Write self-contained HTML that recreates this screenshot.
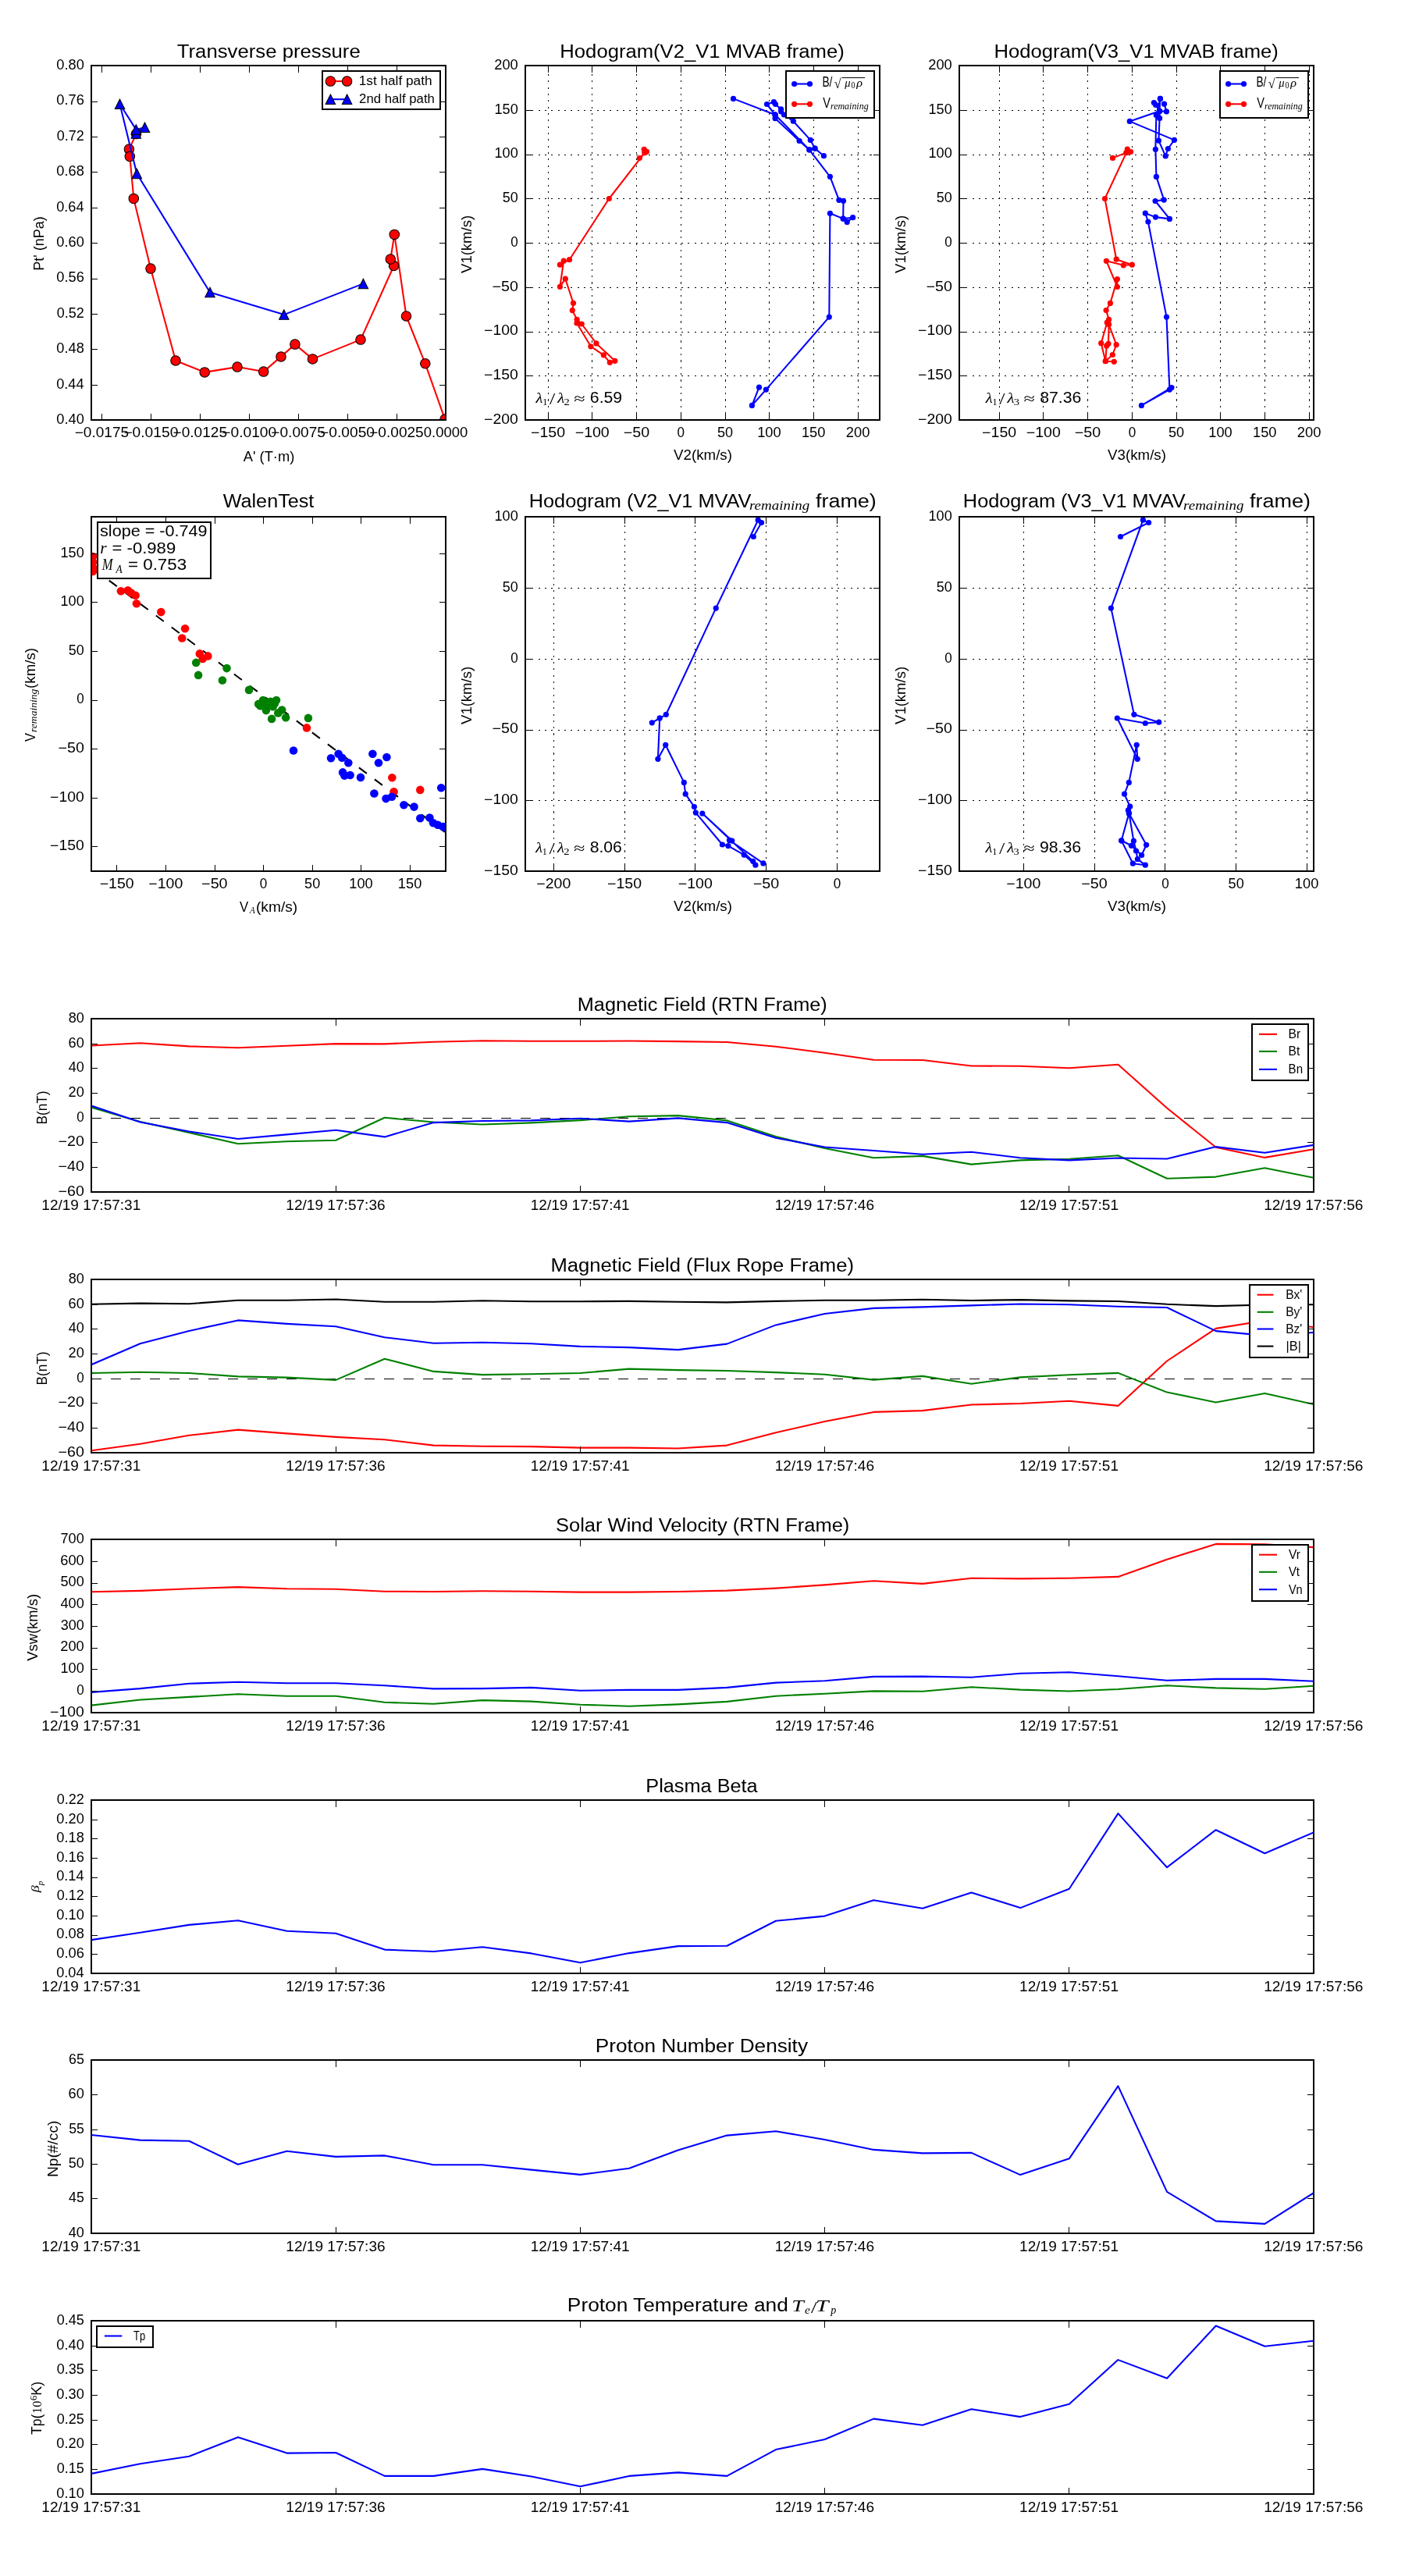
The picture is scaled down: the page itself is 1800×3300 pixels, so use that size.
<!DOCTYPE html>
<html><head><meta charset="utf-8"><title>figure</title><style>html,body{margin:0;padding:0;background:#fff;overflow:hidden;}svg{display:block;will-change:transform;}text{fill:#000;}</style></head><body>
<svg width="1800" height="3300" viewBox="0 0 1800 3300">
<rect x="0" y="0" width="1800" height="3300" fill="#fff"/>
<defs><clipPath id="p1"><rect x="117.0" y="84.0" width="454.0" height="454.0"/></clipPath><clipPath id="p2"><rect x="673.0" y="84.0" width="454.0" height="454.0"/></clipPath><clipPath id="p3"><rect x="1229.0" y="84.0" width="454.0" height="454.0"/></clipPath><clipPath id="p4"><rect x="117.0" y="662.0" width="454.0" height="454.0"/></clipPath><clipPath id="p5"><rect x="673.0" y="662.0" width="454.0" height="454.0"/></clipPath><clipPath id="p6"><rect x="1229.0" y="662.0" width="454.0" height="454.0"/></clipPath><clipPath id="ts0"><rect x="117.0" y="1305.0" width="1566.0" height="221.70000000000005"/></clipPath><clipPath id="ts1"><rect x="117.0" y="1639.0" width="1566.0" height="221.70000000000005"/></clipPath><clipPath id="ts2"><rect x="117.0" y="1972.0" width="1566.0" height="221.69999999999982"/></clipPath><clipPath id="ts3"><rect x="117.0" y="2306.0" width="1566.0" height="221.69999999999982"/></clipPath><clipPath id="ts4"><rect x="117.0" y="2639.0" width="1566.0" height="221.69999999999982"/></clipPath><clipPath id="ts5"><rect x="117.0" y="2973.0" width="1566.0" height="221.69999999999982"/></clipPath></defs>
<g clip-path="url(#p1)">
<polyline points="174.50,171.60 165.40,191.10 166.30,200.40 171.30,254.40 193.00,344.10 225.00,462.00 262.20,476.90 304.00,470.10 337.70,476.10 360.00,456.90 377.90,441.10 400.50,459.90 462.00,435.10 504.60,340.50 500.30,332.00 505.30,300.40 520.50,405.00 544.80,465.80 570.00,537.10" fill="none" stroke="#ff0000" stroke-width="2.08" stroke-linejoin="round" stroke-linecap="butt"/>
<g fill="#ff0000" stroke="#000000" stroke-width="1.04"><circle cx="174.50" cy="171.60" r="6.25"/><circle cx="165.40" cy="191.10" r="6.25"/><circle cx="166.30" cy="200.40" r="6.25"/><circle cx="171.30" cy="254.40" r="6.25"/><circle cx="193.00" cy="344.10" r="6.25"/><circle cx="225.00" cy="462.00" r="6.25"/><circle cx="262.20" cy="476.90" r="6.25"/><circle cx="304.00" cy="470.10" r="6.25"/><circle cx="337.70" cy="476.10" r="6.25"/><circle cx="360.00" cy="456.90" r="6.25"/><circle cx="377.90" cy="441.10" r="6.25"/><circle cx="400.50" cy="459.90" r="6.25"/><circle cx="462.00" cy="435.10" r="6.25"/><circle cx="504.60" cy="340.50" r="6.25"/><circle cx="500.30" cy="332.00" r="6.25"/><circle cx="505.30" cy="300.40" r="6.25"/><circle cx="520.50" cy="405.00" r="6.25"/><circle cx="544.80" cy="465.80" r="6.25"/><circle cx="570.00" cy="537.10" r="6.25"/></g>
<polyline points="174.30,171.10 185.50,163.20 174.30,165.90 153.50,133.30 175.30,222.50 269.00,374.50 363.80,403.10 465.40,363.40" fill="none" stroke="#0000ff" stroke-width="2.08" stroke-linejoin="round" stroke-linecap="butt"/>
<g fill="#0000ff" stroke="#000000" stroke-width="1.04" stroke-linejoin="miter"><path d="M174.30,164.85 L168.05,177.35 L180.55,177.35 Z"/><path d="M185.50,156.95 L179.25,169.45 L191.75,169.45 Z"/><path d="M174.30,159.65 L168.05,172.15 L180.55,172.15 Z"/><path d="M153.50,127.05 L147.25,139.55 L159.75,139.55 Z"/><path d="M175.30,216.25 L169.05,228.75 L181.55,228.75 Z"/><path d="M269.00,368.25 L262.75,380.75 L275.25,380.75 Z"/><path d="M363.80,396.85 L357.55,409.35 L370.05,409.35 Z"/><path d="M465.40,357.15 L459.15,369.65 L471.65,369.65 Z"/></g>
</g>
<path d="M130.5,538.00V530.17M130.5,84.00V92.83M193.5,538.00V530.17M193.5,84.00V92.83M256.5,538.00V530.17M256.5,84.00V92.83M319.5,538.00V530.17M319.5,84.00V92.83M382.5,538.00V530.17M382.5,84.00V92.83M445.5,538.00V530.17M445.5,84.00V92.83M508.5,538.00V530.17M508.5,84.00V92.83M571.5,538.00V530.17M571.5,84.00V92.83M117.00,538.5H125.33M571.00,538.5H562.67M117.00,493.5H125.33M571.00,493.5H562.67M117.00,447.5H125.33M571.00,447.5H562.67M117.00,402.5H125.33M571.00,402.5H562.67M117.00,357.5H125.33M571.00,357.5H562.67M117.00,311.5H125.33M571.00,311.5H562.67M117.00,266.5H125.33M571.00,266.5H562.67M117.00,220.5H125.33M571.00,220.5H562.67M117.00,175.5H125.33M571.00,175.5H562.67M117.00,130.5H125.33M571.00,130.5H562.67M117.00,84.5H125.33M571.00,84.5H562.67" stroke="#000" stroke-width="1" fill="none" shape-rendering="crispEdges"/>
<rect x="412.80" y="91.10" width="151.20" height="48.50" fill="#fff" stroke="#000" stroke-width="2.0" shape-rendering="crispEdges"/>
<line x1="423.40" y1="104.10" x2="444.60" y2="104.10" stroke="#ff0000" stroke-width="2.08" stroke-linecap="butt"/>
<g fill="#ff0000" stroke="#000000" stroke-width="1.04"><circle cx="423.40" cy="104.10" r="6.25"/><circle cx="444.60" cy="104.10" r="6.25"/></g>
<line x1="423.40" y1="127.20" x2="444.60" y2="127.20" stroke="#0000ff" stroke-width="2.08" stroke-linecap="butt"/>
<g fill="#0000ff" stroke="#000000" stroke-width="1.04" stroke-linejoin="miter"><path d="M423.40,120.95 L417.15,133.45 L429.65,133.45 Z"/><path d="M444.60,120.95 L438.35,133.45 L450.85,133.45 Z"/></g>
<text x="459.69" y="108.80" font-family="Liberation Sans" font-size="16.00" textLength="93.84" lengthAdjust="spacingAndGlyphs">1st half path</text>
<text x="460.12" y="131.90" font-family="Liberation Sans" font-size="16.00" textLength="96.73" lengthAdjust="spacingAndGlyphs">2nd half path</text>
<rect x="117.00" y="84.00" width="454.00" height="454.00" fill="none" stroke="#000" stroke-width="2.0" shape-rendering="crispEdges"/>
<text x="95.69" y="559.70" font-family="Liberation Sans" font-size="17.67" textLength="69.55" lengthAdjust="spacingAndGlyphs">−0.0175</text>
<text x="158.42" y="559.70" font-family="Liberation Sans" font-size="17.67" textLength="69.93" lengthAdjust="spacingAndGlyphs">−0.0150</text>
<text x="221.53" y="559.70" font-family="Liberation Sans" font-size="17.67" textLength="69.55" lengthAdjust="spacingAndGlyphs">−0.0125</text>
<text x="284.26" y="559.70" font-family="Liberation Sans" font-size="17.67" textLength="69.93" lengthAdjust="spacingAndGlyphs">−0.0100</text>
<text x="347.37" y="559.70" font-family="Liberation Sans" font-size="17.67" textLength="69.55" lengthAdjust="spacingAndGlyphs">−0.0075</text>
<text x="410.10" y="559.70" font-family="Liberation Sans" font-size="17.67" textLength="69.93" lengthAdjust="spacingAndGlyphs">−0.0050</text>
<text x="473.21" y="559.70" font-family="Liberation Sans" font-size="17.67" textLength="69.55" lengthAdjust="spacingAndGlyphs">−0.0025</text>
<text x="542.76" y="559.70" font-family="Liberation Sans" font-size="17.67" textLength="56.51" lengthAdjust="spacingAndGlyphs">0.0000</text>
<text x="72.28" y="542.90" font-family="Liberation Sans" font-size="17.67" textLength="35.53" lengthAdjust="spacingAndGlyphs">0.40</text>
<text x="72.16" y="497.50" font-family="Liberation Sans" font-size="17.67" textLength="35.39" lengthAdjust="spacingAndGlyphs">0.44</text>
<text x="72.28" y="452.10" font-family="Liberation Sans" font-size="17.67" textLength="35.53" lengthAdjust="spacingAndGlyphs">0.48</text>
<text x="72.77" y="406.70" font-family="Liberation Sans" font-size="17.67" textLength="35.15" lengthAdjust="spacingAndGlyphs">0.52</text>
<text x="72.27" y="361.30" font-family="Liberation Sans" font-size="17.67" textLength="35.66" lengthAdjust="spacingAndGlyphs">0.56</text>
<text x="72.28" y="315.90" font-family="Liberation Sans" font-size="17.67" textLength="35.53" lengthAdjust="spacingAndGlyphs">0.60</text>
<text x="72.16" y="270.50" font-family="Liberation Sans" font-size="17.67" textLength="35.39" lengthAdjust="spacingAndGlyphs">0.64</text>
<text x="72.28" y="225.10" font-family="Liberation Sans" font-size="17.67" textLength="35.53" lengthAdjust="spacingAndGlyphs">0.68</text>
<text x="72.77" y="179.70" font-family="Liberation Sans" font-size="17.67" textLength="35.15" lengthAdjust="spacingAndGlyphs">0.72</text>
<text x="72.27" y="134.30" font-family="Liberation Sans" font-size="17.67" textLength="35.66" lengthAdjust="spacingAndGlyphs">0.76</text>
<text x="72.28" y="88.90" font-family="Liberation Sans" font-size="17.67" textLength="35.53" lengthAdjust="spacingAndGlyphs">0.80</text>
<text x="226.79" y="74.20" font-family="Liberation Sans" font-size="24.73" textLength="234.98" lengthAdjust="spacingAndGlyphs">Transverse pressure</text>
<text x="311.81" y="590.80" font-family="Liberation Sans" font-size="17.67" textLength="65.49" lengthAdjust="spacingAndGlyphs">A' (T·m)</text>
<g transform="rotate(-90 55.80 345.40)">
<text x="54.40" y="345.40" font-family="Liberation Sans" font-size="17.70" textLength="69.61" lengthAdjust="spacingAndGlyphs">Pt' (nPa)</text>
</g>
<line x1="702.50" y1="538.50" x2="702.50" y2="84.00" stroke="#000000" stroke-width="1.0" stroke-dasharray="2.08 6.25" shape-rendering="crispEdges" stroke-linecap="butt"/>
<line x1="758.50" y1="538.50" x2="758.50" y2="84.00" stroke="#000000" stroke-width="1.0" stroke-dasharray="2.08 6.25" shape-rendering="crispEdges" stroke-linecap="butt"/>
<line x1="815.50" y1="538.50" x2="815.50" y2="84.00" stroke="#000000" stroke-width="1.0" stroke-dasharray="2.08 6.25" shape-rendering="crispEdges" stroke-linecap="butt"/>
<line x1="872.50" y1="538.50" x2="872.50" y2="84.00" stroke="#000000" stroke-width="1.0" stroke-dasharray="2.08 6.25" shape-rendering="crispEdges" stroke-linecap="butt"/>
<line x1="929.50" y1="538.50" x2="929.50" y2="84.00" stroke="#000000" stroke-width="1.0" stroke-dasharray="2.08 6.25" shape-rendering="crispEdges" stroke-linecap="butt"/>
<line x1="985.50" y1="538.50" x2="985.50" y2="84.00" stroke="#000000" stroke-width="1.0" stroke-dasharray="2.08 6.25" shape-rendering="crispEdges" stroke-linecap="butt"/>
<line x1="1042.50" y1="538.50" x2="1042.50" y2="84.00" stroke="#000000" stroke-width="1.0" stroke-dasharray="2.08 6.25" shape-rendering="crispEdges" stroke-linecap="butt"/>
<line x1="1099.50" y1="538.50" x2="1099.50" y2="84.00" stroke="#000000" stroke-width="1.0" stroke-dasharray="2.08 6.25" shape-rendering="crispEdges" stroke-linecap="butt"/>
<line x1="673.00" y1="481.50" x2="1127.00" y2="481.50" stroke="#000000" stroke-width="1.0" stroke-dasharray="2.08 6.25" shape-rendering="crispEdges" stroke-linecap="butt"/>
<line x1="673.00" y1="425.50" x2="1127.00" y2="425.50" stroke="#000000" stroke-width="1.0" stroke-dasharray="2.08 6.25" shape-rendering="crispEdges" stroke-linecap="butt"/>
<line x1="673.00" y1="368.50" x2="1127.00" y2="368.50" stroke="#000000" stroke-width="1.0" stroke-dasharray="2.08 6.25" shape-rendering="crispEdges" stroke-linecap="butt"/>
<line x1="673.00" y1="311.50" x2="1127.00" y2="311.50" stroke="#000000" stroke-width="1.0" stroke-dasharray="2.08 6.25" shape-rendering="crispEdges" stroke-linecap="butt"/>
<line x1="673.00" y1="254.50" x2="1127.00" y2="254.50" stroke="#000000" stroke-width="1.0" stroke-dasharray="2.08 6.25" shape-rendering="crispEdges" stroke-linecap="butt"/>
<line x1="673.00" y1="198.50" x2="1127.00" y2="198.50" stroke="#000000" stroke-width="1.0" stroke-dasharray="2.08 6.25" shape-rendering="crispEdges" stroke-linecap="butt"/>
<line x1="673.00" y1="141.50" x2="1127.00" y2="141.50" stroke="#000000" stroke-width="1.0" stroke-dasharray="2.08 6.25" shape-rendering="crispEdges" stroke-linecap="butt"/>
<path d="M702.5,538.00V530.17M702.5,84.00V92.83M758.5,538.00V530.17M758.5,84.00V92.83M815.5,538.00V530.17M815.5,84.00V92.83M872.5,538.00V530.17M872.5,84.00V92.83M929.5,538.00V530.17M929.5,84.00V92.83M985.5,538.00V530.17M985.5,84.00V92.83M1042.5,538.00V530.17M1042.5,84.00V92.83M1099.5,538.00V530.17M1099.5,84.00V92.83M673.00,481.5H681.33M1127.00,481.5H1118.67M673.00,425.5H681.33M1127.00,425.5H1118.67M673.00,368.5H681.33M1127.00,368.5H1118.67M673.00,311.5H681.33M1127.00,311.5H1118.67M673.00,254.5H681.33M1127.00,254.5H1118.67M673.00,198.5H681.33M1127.00,198.5H1118.67M673.00,141.5H681.33M1127.00,141.5H1118.67" stroke="#000" stroke-width="1" fill="none" shape-rendering="crispEdges"/>
<path d="M939.50,126.40 L993.10,147.00 L1036.90,191.90 L1063.40,226.30 L1074.90,256.30 L1080.50,257.30 L1080.20,280.10 L1085.20,284.40 L1092.60,278.70 L1080.20,280.10 L1063.40,273.30 L1062.30,406.10 L981.40,499.10 L963.40,519.40 L972.50,496.20 M993.10,147.00 L982.50,133.50 L991.40,130.70 L993.50,133.50 L1000.60,139.90 L1000.60,142.80 L1004.50,147.00 L1016.30,155.20 L1038.30,179.40 L1044.00,190.10 L1055.40,199.70 M993.10,147.00 L993.10,151.70 L1024.10,180.50 L1036.90,191.90 L1044.00,190.10 " fill="none" stroke="#0000ff" stroke-width="2.08" stroke-linejoin="round" clip-path="url(#p2)"/>
<g fill="#0000ff" clip-path="url(#p2)"><circle cx="939.50" cy="126.40" r="3.6"/><circle cx="993.10" cy="147.00" r="3.6"/><circle cx="1036.90" cy="191.90" r="3.6"/><circle cx="1063.40" cy="226.30" r="3.6"/><circle cx="1074.90" cy="256.30" r="3.6"/><circle cx="1080.50" cy="257.30" r="3.6"/><circle cx="1080.20" cy="280.10" r="3.6"/><circle cx="1085.20" cy="284.40" r="3.6"/><circle cx="1092.60" cy="278.70" r="3.6"/><circle cx="1080.20" cy="280.10" r="3.6"/><circle cx="1063.40" cy="273.30" r="3.6"/><circle cx="1062.30" cy="406.10" r="3.6"/><circle cx="981.40" cy="499.10" r="3.6"/><circle cx="963.40" cy="519.40" r="3.6"/><circle cx="972.50" cy="496.20" r="3.6"/><circle cx="993.10" cy="147.00" r="3.6"/><circle cx="982.50" cy="133.50" r="3.6"/><circle cx="991.40" cy="130.70" r="3.6"/><circle cx="993.50" cy="133.50" r="3.6"/><circle cx="1000.60" cy="139.90" r="3.6"/><circle cx="1000.60" cy="142.80" r="3.6"/><circle cx="1004.50" cy="147.00" r="3.6"/><circle cx="1016.30" cy="155.20" r="3.6"/><circle cx="1038.30" cy="179.40" r="3.6"/><circle cx="1044.00" cy="190.10" r="3.6"/><circle cx="1055.40" cy="199.70" r="3.6"/><circle cx="993.10" cy="147.00" r="3.6"/><circle cx="993.10" cy="151.70" r="3.6"/><circle cx="1024.10" cy="180.50" r="3.6"/><circle cx="1036.90" cy="191.90" r="3.6"/><circle cx="1044.00" cy="190.10" r="3.6"/></g>
<polyline points="819.30,202.50 826.00,195.60 828.50,194.30 825.20,191.30 826.00,195.60 780.30,254.50 729.50,332.70 717.40,339.20 722.20,334.20 717.40,367.30 724.30,357.20 734.50,388.30 733.30,397.60 739.10,409.30 739.50,413.20 745.20,415.00 763.90,439.90 787.80,462.30 781.30,464.30 773.30,454.80 756.90,443.80 739.00,414.00" fill="none" stroke="#ff0000" stroke-width="2.08" stroke-linejoin="round" stroke-linecap="butt" clip-path="url(#p2)"/>
<g fill="#ff0000" clip-path="url(#p2)"><circle cx="819.30" cy="202.50" r="3.6"/><circle cx="826.00" cy="195.60" r="3.6"/><circle cx="828.50" cy="194.30" r="3.6"/><circle cx="825.20" cy="191.30" r="3.6"/><circle cx="826.00" cy="195.60" r="3.6"/><circle cx="780.30" cy="254.50" r="3.6"/><circle cx="729.50" cy="332.70" r="3.6"/><circle cx="717.40" cy="339.20" r="3.6"/><circle cx="722.20" cy="334.20" r="3.6"/><circle cx="717.40" cy="367.30" r="3.6"/><circle cx="724.30" cy="357.20" r="3.6"/><circle cx="734.50" cy="388.30" r="3.6"/><circle cx="733.30" cy="397.60" r="3.6"/><circle cx="739.10" cy="409.30" r="3.6"/><circle cx="739.50" cy="413.20" r="3.6"/><circle cx="745.20" cy="415.00" r="3.6"/><circle cx="763.90" cy="439.90" r="3.6"/><circle cx="787.80" cy="462.30" r="3.6"/><circle cx="781.30" cy="464.30" r="3.6"/><circle cx="773.30" cy="454.80" r="3.6"/><circle cx="756.90" cy="443.80" r="3.6"/><circle cx="739.00" cy="414.00" r="3.6"/></g>
<rect x="1007.30" y="91.20" width="112.40" height="59.30" fill="#fff" stroke="#000" stroke-width="2.0" shape-rendering="crispEdges"/>
<line x1="1017.60" y1="107.50" x2="1037.50" y2="107.50" stroke="#0000ff" stroke-width="2.08" stroke-linecap="butt"/>
<g fill="#0000ff"><circle cx="1017.60" cy="107.50" r="3.6"/><circle cx="1037.50" cy="107.50" r="3.6"/></g>
<line x1="1017.60" y1="133.30" x2="1037.50" y2="133.30" stroke="#ff0000" stroke-width="2.08" stroke-linecap="butt"/>
<g fill="#ff0000"><circle cx="1017.60" cy="133.30" r="3.6"/><circle cx="1037.50" cy="133.30" r="3.6"/></g>
<text x="1053.44" y="111.10" font-family="Liberation Sans" font-size="17.70" textLength="12.98" lengthAdjust="spacingAndGlyphs">B/</text>
<text x="1068.65" y="112.50" font-family="Liberation Serif" font-size="17.00" textLength="8.81" lengthAdjust="spacingAndGlyphs">√</text>
<line x1="1078.50" y1="99.60" x2="1108.00" y2="99.60" stroke="#000000" stroke-width="1.0" stroke-linecap="butt"/>
<text x="1082.30" y="110.60" font-family="Liberation Serif" font-style="italic" font-size="15.00" textLength="7.31" lengthAdjust="spacingAndGlyphs">μ</text>
<text x="1090.48" y="112.60" font-family="Liberation Serif" font-size="11.50" textLength="4.94" lengthAdjust="spacingAndGlyphs">0</text>
<text x="1097.21" y="110.60" font-family="Liberation Serif" font-style="italic" font-size="15.00" textLength="7.78" lengthAdjust="spacingAndGlyphs">ρ</text>
<text x="1054.30" y="138.00" font-family="Liberation Sans" font-size="17.70" textLength="9.68" lengthAdjust="spacingAndGlyphs">V</text>
<text x="1064.02" y="139.70" font-family="Liberation Serif" font-style="italic" font-size="12.50" textLength="48.58" lengthAdjust="spacingAndGlyphs">remaining</text>
<rect x="673.00" y="84.00" width="454.00" height="454.00" fill="none" stroke="#000" stroke-width="2.0" shape-rendering="crispEdges"/>
<text x="680.04" y="559.70" font-family="Liberation Sans" font-size="17.67" textLength="43.98" lengthAdjust="spacingAndGlyphs">−150</text>
<text x="736.76" y="559.70" font-family="Liberation Sans" font-size="17.67" textLength="43.98" lengthAdjust="spacingAndGlyphs">−100</text>
<text x="798.71" y="559.70" font-family="Liberation Sans" font-size="17.67" textLength="33.47" lengthAdjust="spacingAndGlyphs">−50</text>
<text x="867.57" y="559.70" font-family="Liberation Sans" font-size="17.67" textLength="9.51" lengthAdjust="spacingAndGlyphs">0</text>
<text x="918.96" y="559.70" font-family="Liberation Sans" font-size="17.67" textLength="20.11" lengthAdjust="spacingAndGlyphs">50</text>
<text x="970.24" y="559.70" font-family="Liberation Sans" font-size="17.67" textLength="30.42" lengthAdjust="spacingAndGlyphs">100</text>
<text x="1026.96" y="559.70" font-family="Liberation Sans" font-size="17.67" textLength="30.42" lengthAdjust="spacingAndGlyphs">150</text>
<text x="1083.76" y="559.70" font-family="Liberation Sans" font-size="17.67" textLength="30.66" lengthAdjust="spacingAndGlyphs">200</text>
<text x="620.12" y="542.90" font-family="Liberation Sans" font-size="17.67" textLength="43.75" lengthAdjust="spacingAndGlyphs">−200</text>
<text x="620.12" y="486.15" font-family="Liberation Sans" font-size="17.67" textLength="43.75" lengthAdjust="spacingAndGlyphs">−150</text>
<text x="620.12" y="429.40" font-family="Liberation Sans" font-size="17.67" textLength="43.75" lengthAdjust="spacingAndGlyphs">−100</text>
<text x="630.52" y="372.65" font-family="Liberation Sans" font-size="17.67" textLength="33.30" lengthAdjust="spacingAndGlyphs">−50</text>
<text x="654.29" y="315.90" font-family="Liberation Sans" font-size="17.67" textLength="9.47" lengthAdjust="spacingAndGlyphs">0</text>
<text x="643.84" y="259.15" font-family="Liberation Sans" font-size="17.67" textLength="20.01" lengthAdjust="spacingAndGlyphs">50</text>
<text x="633.52" y="202.40" font-family="Liberation Sans" font-size="17.67" textLength="30.26" lengthAdjust="spacingAndGlyphs">100</text>
<text x="633.52" y="145.65" font-family="Liberation Sans" font-size="17.67" textLength="30.26" lengthAdjust="spacingAndGlyphs">150</text>
<text x="633.28" y="88.90" font-family="Liberation Sans" font-size="17.67" textLength="30.50" lengthAdjust="spacingAndGlyphs">200</text>
<text x="863.12" y="588.70" font-family="Liberation Sans" font-size="17.67" textLength="74.83" lengthAdjust="spacingAndGlyphs">V2(km/s)</text>
<g transform="rotate(-90 604.10 349.80)">
<text x="603.97" y="349.80" font-family="Liberation Sans" font-size="17.70" textLength="73.97" lengthAdjust="spacingAndGlyphs">V1(km/s)</text>
</g>
<line x1="1280.50" y1="538.50" x2="1280.50" y2="84.00" stroke="#000000" stroke-width="1.0" stroke-dasharray="2.08 6.25" shape-rendering="crispEdges" stroke-linecap="butt"/>
<line x1="1336.50" y1="538.50" x2="1336.50" y2="84.00" stroke="#000000" stroke-width="1.0" stroke-dasharray="2.08 6.25" shape-rendering="crispEdges" stroke-linecap="butt"/>
<line x1="1393.50" y1="538.50" x2="1393.50" y2="84.00" stroke="#000000" stroke-width="1.0" stroke-dasharray="2.08 6.25" shape-rendering="crispEdges" stroke-linecap="butt"/>
<line x1="1450.50" y1="538.50" x2="1450.50" y2="84.00" stroke="#000000" stroke-width="1.0" stroke-dasharray="2.08 6.25" shape-rendering="crispEdges" stroke-linecap="butt"/>
<line x1="1507.50" y1="538.50" x2="1507.50" y2="84.00" stroke="#000000" stroke-width="1.0" stroke-dasharray="2.08 6.25" shape-rendering="crispEdges" stroke-linecap="butt"/>
<line x1="1563.50" y1="538.50" x2="1563.50" y2="84.00" stroke="#000000" stroke-width="1.0" stroke-dasharray="2.08 6.25" shape-rendering="crispEdges" stroke-linecap="butt"/>
<line x1="1620.50" y1="538.50" x2="1620.50" y2="84.00" stroke="#000000" stroke-width="1.0" stroke-dasharray="2.08 6.25" shape-rendering="crispEdges" stroke-linecap="butt"/>
<line x1="1677.50" y1="538.50" x2="1677.50" y2="84.00" stroke="#000000" stroke-width="1.0" stroke-dasharray="2.08 6.25" shape-rendering="crispEdges" stroke-linecap="butt"/>
<line x1="1229.00" y1="481.50" x2="1683.00" y2="481.50" stroke="#000000" stroke-width="1.0" stroke-dasharray="2.08 6.25" shape-rendering="crispEdges" stroke-linecap="butt"/>
<line x1="1229.00" y1="425.50" x2="1683.00" y2="425.50" stroke="#000000" stroke-width="1.0" stroke-dasharray="2.08 6.25" shape-rendering="crispEdges" stroke-linecap="butt"/>
<line x1="1229.00" y1="368.50" x2="1683.00" y2="368.50" stroke="#000000" stroke-width="1.0" stroke-dasharray="2.08 6.25" shape-rendering="crispEdges" stroke-linecap="butt"/>
<line x1="1229.00" y1="311.50" x2="1683.00" y2="311.50" stroke="#000000" stroke-width="1.0" stroke-dasharray="2.08 6.25" shape-rendering="crispEdges" stroke-linecap="butt"/>
<line x1="1229.00" y1="254.50" x2="1683.00" y2="254.50" stroke="#000000" stroke-width="1.0" stroke-dasharray="2.08 6.25" shape-rendering="crispEdges" stroke-linecap="butt"/>
<line x1="1229.00" y1="198.50" x2="1683.00" y2="198.50" stroke="#000000" stroke-width="1.0" stroke-dasharray="2.08 6.25" shape-rendering="crispEdges" stroke-linecap="butt"/>
<line x1="1229.00" y1="141.50" x2="1683.00" y2="141.50" stroke="#000000" stroke-width="1.0" stroke-dasharray="2.08 6.25" shape-rendering="crispEdges" stroke-linecap="butt"/>
<path d="M1280.5,538.00V530.17M1280.5,84.00V92.83M1336.5,538.00V530.17M1336.5,84.00V92.83M1393.5,538.00V530.17M1393.5,84.00V92.83M1450.5,538.00V530.17M1450.5,84.00V92.83M1507.5,538.00V530.17M1507.5,84.00V92.83M1563.5,538.00V530.17M1563.5,84.00V92.83M1620.5,538.00V530.17M1620.5,84.00V92.83M1677.5,538.00V530.17M1677.5,84.00V92.83M1229.00,481.5H1237.33M1683.00,481.5H1674.67M1229.00,425.5H1237.33M1683.00,425.5H1674.67M1229.00,368.5H1237.33M1683.00,368.5H1674.67M1229.00,311.5H1237.33M1683.00,311.5H1674.67M1229.00,254.5H1237.33M1683.00,254.5H1674.67M1229.00,198.5H1237.33M1683.00,198.5H1674.67M1229.00,141.5H1237.33M1683.00,141.5H1674.67" stroke="#000" stroke-width="1" fill="none" shape-rendering="crispEdges"/>
<path d="M1486.40,126.40 L1481.30,147.50 L1480.40,191.30 L1481.40,226.40 L1491.20,256.10 L1480.10,257.50 L1498.40,280.40 L1480.40,278.10 L1467.30,273.20 L1470.90,284.00 L1494.50,406.10 L1498.40,499.10 L1462.40,519.40 L1501.00,496.50 M1478.40,131.50 L1480.70,134.40 L1485.60,142.30 L1447.30,155.40 L1504.40,179.40 L1496.40,190.50 L1493.20,199.90 L1484.40,180.20 L1485.60,151.40 L1485.60,142.30 M1491.50,133.20 L1494.40,142.90 L1485.60,142.30 L1486.40,126.40 " fill="none" stroke="#0000ff" stroke-width="2.08" stroke-linejoin="round" clip-path="url(#p3)"/>
<g fill="#0000ff" clip-path="url(#p3)"><circle cx="1486.40" cy="126.40" r="3.6"/><circle cx="1481.30" cy="147.50" r="3.6"/><circle cx="1480.40" cy="191.30" r="3.6"/><circle cx="1481.40" cy="226.40" r="3.6"/><circle cx="1491.20" cy="256.10" r="3.6"/><circle cx="1480.10" cy="257.50" r="3.6"/><circle cx="1498.40" cy="280.40" r="3.6"/><circle cx="1480.40" cy="278.10" r="3.6"/><circle cx="1467.30" cy="273.20" r="3.6"/><circle cx="1470.90" cy="284.00" r="3.6"/><circle cx="1494.50" cy="406.10" r="3.6"/><circle cx="1498.40" cy="499.10" r="3.6"/><circle cx="1462.40" cy="519.40" r="3.6"/><circle cx="1501.00" cy="496.50" r="3.6"/><circle cx="1478.40" cy="131.50" r="3.6"/><circle cx="1480.70" cy="134.40" r="3.6"/><circle cx="1485.60" cy="142.30" r="3.6"/><circle cx="1447.30" cy="155.40" r="3.6"/><circle cx="1504.40" cy="179.40" r="3.6"/><circle cx="1496.40" cy="190.50" r="3.6"/><circle cx="1493.20" cy="199.90" r="3.6"/><circle cx="1484.40" cy="180.20" r="3.6"/><circle cx="1485.60" cy="151.40" r="3.6"/><circle cx="1485.60" cy="142.30" r="3.6"/><circle cx="1491.50" cy="133.20" r="3.6"/><circle cx="1494.40" cy="142.90" r="3.6"/><circle cx="1485.60" cy="142.30" r="3.6"/><circle cx="1486.40" cy="126.40" r="3.6"/></g>
<polyline points="1425.50,202.40 1443.00,195.60 1448.60,194.50 1444.30,191.10 1443.00,195.60 1415.50,254.50 1430.20,332.20 1450.30,339.20 1439.30,339.80 1417.40,334.30 1431.40,367.50 1431.40,357.60 1422.40,388.40 1417.10,397.50 1420.60,409.40 1418.30,413.20 1410.70,439.70 1416.30,462.70 1425.30,454.50 1430.20,441.70 1420.60,415.50 1420.00,440.30 1417.70,442.90 1416.30,462.70 1427.30,463.30" fill="none" stroke="#ff0000" stroke-width="2.08" stroke-linejoin="round" stroke-linecap="butt" clip-path="url(#p3)"/>
<g fill="#ff0000" clip-path="url(#p3)"><circle cx="1425.50" cy="202.40" r="3.6"/><circle cx="1443.00" cy="195.60" r="3.6"/><circle cx="1448.60" cy="194.50" r="3.6"/><circle cx="1444.30" cy="191.10" r="3.6"/><circle cx="1443.00" cy="195.60" r="3.6"/><circle cx="1415.50" cy="254.50" r="3.6"/><circle cx="1430.20" cy="332.20" r="3.6"/><circle cx="1450.30" cy="339.20" r="3.6"/><circle cx="1439.30" cy="339.80" r="3.6"/><circle cx="1417.40" cy="334.30" r="3.6"/><circle cx="1431.40" cy="367.50" r="3.6"/><circle cx="1431.40" cy="357.60" r="3.6"/><circle cx="1422.40" cy="388.40" r="3.6"/><circle cx="1417.10" cy="397.50" r="3.6"/><circle cx="1420.60" cy="409.40" r="3.6"/><circle cx="1418.30" cy="413.20" r="3.6"/><circle cx="1410.70" cy="439.70" r="3.6"/><circle cx="1416.30" cy="462.70" r="3.6"/><circle cx="1425.30" cy="454.50" r="3.6"/><circle cx="1430.20" cy="441.70" r="3.6"/><circle cx="1420.60" cy="415.50" r="3.6"/><circle cx="1420.00" cy="440.30" r="3.6"/><circle cx="1417.70" cy="442.90" r="3.6"/><circle cx="1416.30" cy="462.70" r="3.6"/><circle cx="1427.30" cy="463.30" r="3.6"/></g>
<rect x="1563.30" y="91.20" width="112.40" height="59.30" fill="#fff" stroke="#000" stroke-width="2.0" shape-rendering="crispEdges"/>
<line x1="1573.60" y1="107.50" x2="1593.50" y2="107.50" stroke="#0000ff" stroke-width="2.08" stroke-linecap="butt"/>
<g fill="#0000ff"><circle cx="1573.60" cy="107.50" r="3.6"/><circle cx="1593.50" cy="107.50" r="3.6"/></g>
<line x1="1573.60" y1="133.30" x2="1593.50" y2="133.30" stroke="#ff0000" stroke-width="2.08" stroke-linecap="butt"/>
<g fill="#ff0000"><circle cx="1573.60" cy="133.30" r="3.6"/><circle cx="1593.50" cy="133.30" r="3.6"/></g>
<text x="1609.44" y="111.10" font-family="Liberation Sans" font-size="17.70" textLength="12.98" lengthAdjust="spacingAndGlyphs">B/</text>
<text x="1624.65" y="112.50" font-family="Liberation Serif" font-size="17.00" textLength="8.81" lengthAdjust="spacingAndGlyphs">√</text>
<line x1="1634.50" y1="99.60" x2="1664.00" y2="99.60" stroke="#000000" stroke-width="1.0" stroke-linecap="butt"/>
<text x="1638.30" y="110.60" font-family="Liberation Serif" font-style="italic" font-size="15.00" textLength="7.31" lengthAdjust="spacingAndGlyphs">μ</text>
<text x="1646.48" y="112.60" font-family="Liberation Serif" font-size="11.50" textLength="4.94" lengthAdjust="spacingAndGlyphs">0</text>
<text x="1653.21" y="110.60" font-family="Liberation Serif" font-style="italic" font-size="15.00" textLength="7.78" lengthAdjust="spacingAndGlyphs">ρ</text>
<text x="1610.30" y="138.00" font-family="Liberation Sans" font-size="17.70" textLength="9.68" lengthAdjust="spacingAndGlyphs">V</text>
<text x="1620.02" y="139.70" font-family="Liberation Serif" font-style="italic" font-size="12.50" textLength="48.58" lengthAdjust="spacingAndGlyphs">remaining</text>
<rect x="1229.00" y="84.00" width="454.00" height="454.00" fill="none" stroke="#000" stroke-width="2.0" shape-rendering="crispEdges"/>
<text x="1258.14" y="559.70" font-family="Liberation Sans" font-size="17.67" textLength="43.98" lengthAdjust="spacingAndGlyphs">−150</text>
<text x="1314.86" y="559.70" font-family="Liberation Sans" font-size="17.67" textLength="43.98" lengthAdjust="spacingAndGlyphs">−100</text>
<text x="1376.81" y="559.70" font-family="Liberation Sans" font-size="17.67" textLength="33.47" lengthAdjust="spacingAndGlyphs">−50</text>
<text x="1445.67" y="559.70" font-family="Liberation Sans" font-size="17.67" textLength="9.51" lengthAdjust="spacingAndGlyphs">0</text>
<text x="1497.06" y="559.70" font-family="Liberation Sans" font-size="17.67" textLength="20.11" lengthAdjust="spacingAndGlyphs">50</text>
<text x="1548.34" y="559.70" font-family="Liberation Sans" font-size="17.67" textLength="30.42" lengthAdjust="spacingAndGlyphs">100</text>
<text x="1605.06" y="559.70" font-family="Liberation Sans" font-size="17.67" textLength="30.42" lengthAdjust="spacingAndGlyphs">150</text>
<text x="1661.86" y="559.70" font-family="Liberation Sans" font-size="17.67" textLength="30.66" lengthAdjust="spacingAndGlyphs">200</text>
<text x="1176.12" y="542.90" font-family="Liberation Sans" font-size="17.67" textLength="43.75" lengthAdjust="spacingAndGlyphs">−200</text>
<text x="1176.12" y="486.15" font-family="Liberation Sans" font-size="17.67" textLength="43.75" lengthAdjust="spacingAndGlyphs">−150</text>
<text x="1176.12" y="429.40" font-family="Liberation Sans" font-size="17.67" textLength="43.75" lengthAdjust="spacingAndGlyphs">−100</text>
<text x="1186.52" y="372.65" font-family="Liberation Sans" font-size="17.67" textLength="33.30" lengthAdjust="spacingAndGlyphs">−50</text>
<text x="1210.29" y="315.90" font-family="Liberation Sans" font-size="17.67" textLength="9.47" lengthAdjust="spacingAndGlyphs">0</text>
<text x="1199.84" y="259.15" font-family="Liberation Sans" font-size="17.67" textLength="20.01" lengthAdjust="spacingAndGlyphs">50</text>
<text x="1189.52" y="202.40" font-family="Liberation Sans" font-size="17.67" textLength="30.26" lengthAdjust="spacingAndGlyphs">100</text>
<text x="1189.52" y="145.65" font-family="Liberation Sans" font-size="17.67" textLength="30.26" lengthAdjust="spacingAndGlyphs">150</text>
<text x="1189.28" y="88.90" font-family="Liberation Sans" font-size="17.67" textLength="30.50" lengthAdjust="spacingAndGlyphs">200</text>
<text x="1419.12" y="588.70" font-family="Liberation Sans" font-size="17.67" textLength="74.83" lengthAdjust="spacingAndGlyphs">V3(km/s)</text>
<g transform="rotate(-90 1160.10 349.80)">
<text x="1159.97" y="349.80" font-family="Liberation Sans" font-size="17.70" textLength="73.97" lengthAdjust="spacingAndGlyphs">V1(km/s)</text>
</g>
<text x="686.54" y="515.90" font-family="Liberation Serif" font-style="italic" font-size="19.00" textLength="8.88" lengthAdjust="spacingAndGlyphs">λ</text>
<text x="695.15" y="518.50" font-family="Liberation Serif" font-size="13.00" textLength="6.04" lengthAdjust="spacingAndGlyphs">1</text>
<text x="703.90" y="517.70" font-family="Liberation Serif" font-size="20.00" textLength="7.21" lengthAdjust="spacingAndGlyphs">/</text>
<text x="714.25" y="515.90" font-family="Liberation Serif" font-style="italic" font-size="19.00" textLength="8.98" lengthAdjust="spacingAndGlyphs">λ</text>
<text x="722.54" y="518.50" font-family="Liberation Serif" font-size="13.00" textLength="7.26" lengthAdjust="spacingAndGlyphs">2</text>
<text x="735.21" y="516.90" font-family="Liberation Serif" font-size="19.00" textLength="14.43" lengthAdjust="spacingAndGlyphs">≈</text>
<text x="755.83" y="515.90" font-family="Liberation Sans" font-size="19.88" textLength="41.31" lengthAdjust="spacingAndGlyphs">6.59</text>
<text x="1262.84" y="515.90" font-family="Liberation Serif" font-style="italic" font-size="19.00" textLength="8.88" lengthAdjust="spacingAndGlyphs">λ</text>
<text x="1271.45" y="518.50" font-family="Liberation Serif" font-size="13.00" textLength="6.04" lengthAdjust="spacingAndGlyphs">1</text>
<text x="1280.20" y="517.70" font-family="Liberation Serif" font-size="20.00" textLength="7.21" lengthAdjust="spacingAndGlyphs">/</text>
<text x="1290.55" y="515.90" font-family="Liberation Serif" font-style="italic" font-size="19.00" textLength="8.98" lengthAdjust="spacingAndGlyphs">λ</text>
<text x="1298.70" y="518.50" font-family="Liberation Serif" font-size="13.00" textLength="7.26" lengthAdjust="spacingAndGlyphs">3</text>
<text x="1311.51" y="516.90" font-family="Liberation Serif" font-size="19.00" textLength="14.43" lengthAdjust="spacingAndGlyphs">≈</text>
<text x="1332.27" y="515.90" font-family="Liberation Sans" font-size="19.88" textLength="53.10" lengthAdjust="spacingAndGlyphs">87.36</text>
<text x="717.34" y="74.20" font-family="Liberation Sans" font-size="24.73" textLength="364.43" lengthAdjust="spacingAndGlyphs">Hodogram(V2_V1 MVAB frame)</text>
<text x="1273.44" y="74.20" font-family="Liberation Sans" font-size="24.73" textLength="364.43" lengthAdjust="spacingAndGlyphs">Hodogram(V3_V1 MVAB frame)</text>
<g clip-path="url(#p4)">
<line x1="99.72" y1="713.60" x2="575.48" y2="1069.94" stroke="#000000" stroke-width="2.08" stroke-dasharray="12.5 12.5" stroke-linecap="butt"/>
</g>
<g fill="#ff0000" clip-path="url(#p4)"><circle cx="117.50" cy="713.70" r="5.3"/><circle cx="117.50" cy="721.80" r="5.3"/><circle cx="118.00" cy="728.40" r="5.3"/><circle cx="154.90" cy="757.20" r="5.3"/><circle cx="163.80" cy="756.20" r="5.3"/><circle cx="168.00" cy="759.50" r="5.3"/><circle cx="173.60" cy="762.80" r="5.3"/><circle cx="174.90" cy="773.30" r="5.3"/><circle cx="206.30" cy="784.10" r="5.3"/><circle cx="237.10" cy="805.30" r="5.3"/><circle cx="233.20" cy="817.50" r="5.3"/><circle cx="255.80" cy="837.40" r="5.3"/><circle cx="259.70" cy="844.00" r="5.3"/><circle cx="266.30" cy="840.40" r="5.3"/><circle cx="393.00" cy="932.40" r="5.3"/><circle cx="502.30" cy="996.20" r="5.3"/><circle cx="504.60" cy="1014.20" r="5.3"/><circle cx="538.30" cy="1011.90" r="5.3"/><circle cx="119.00" cy="713.00" r="5.3"/><circle cx="119.00" cy="720.00" r="5.3"/><circle cx="119.00" cy="727.00" r="5.3"/><circle cx="119.00" cy="732.00" r="5.3"/></g>
<g fill="#008000" clip-path="url(#p4)"><circle cx="251.20" cy="848.90" r="5.3"/><circle cx="254.10" cy="864.90" r="5.3"/><circle cx="290.50" cy="856.10" r="5.3"/><circle cx="284.90" cy="871.50" r="5.3"/><circle cx="319.00" cy="883.90" r="5.3"/><circle cx="331.10" cy="901.90" r="5.3"/><circle cx="333.40" cy="904.20" r="5.3"/><circle cx="339.90" cy="900.30" r="5.3"/><circle cx="340.90" cy="910.10" r="5.3"/><circle cx="346.50" cy="898.70" r="5.3"/><circle cx="354.00" cy="897.00" r="5.3"/><circle cx="349.70" cy="905.20" r="5.3"/><circle cx="356.30" cy="913.40" r="5.3"/><circle cx="361.20" cy="909.50" r="5.3"/><circle cx="348.10" cy="920.90" r="5.3"/><circle cx="366.10" cy="919.30" r="5.3"/><circle cx="394.90" cy="919.90" r="5.3"/><circle cx="343.00" cy="905.00" r="5.3"/><circle cx="337.00" cy="897.00" r="5.3"/><circle cx="352.00" cy="901.00" r="5.3"/></g>
<g fill="#0000ff" clip-path="url(#p4)"><circle cx="376.00" cy="961.50" r="5.3"/><circle cx="424.00" cy="971.30" r="5.3"/><circle cx="433.60" cy="965.80" r="5.3"/><circle cx="438.20" cy="970.70" r="5.3"/><circle cx="446.30" cy="977.20" r="5.3"/><circle cx="439.10" cy="989.40" r="5.3"/><circle cx="441.40" cy="993.60" r="5.3"/><circle cx="448.60" cy="993.00" r="5.3"/><circle cx="462.00" cy="995.90" r="5.3"/><circle cx="477.40" cy="965.80" r="5.3"/><circle cx="485.00" cy="977.20" r="5.3"/><circle cx="495.40" cy="970.00" r="5.3"/><circle cx="479.40" cy="1016.50" r="5.3"/><circle cx="494.50" cy="1023.10" r="5.3"/><circle cx="502.00" cy="1020.80" r="5.3"/><circle cx="517.40" cy="1031.30" r="5.3"/><circle cx="530.50" cy="1033.60" r="5.3"/><circle cx="538.30" cy="1048.30" r="5.3"/><circle cx="550.40" cy="1047.60" r="5.3"/><circle cx="555.00" cy="1054.20" r="5.3"/><circle cx="560.90" cy="1056.80" r="5.3"/><circle cx="567.50" cy="1059.10" r="5.3"/><circle cx="565.20" cy="1009.30" r="5.3"/><circle cx="571.00" cy="1060.00" r="5.3"/></g>
<path d="M149.5,1116.00V1108.17M149.5,662.00V670.83M212.5,1116.00V1108.17M212.5,662.00V670.83M275.5,1116.00V1108.17M275.5,662.00V670.83M337.5,1116.00V1108.17M337.5,662.00V670.83M400.5,1116.00V1108.17M400.5,662.00V670.83M462.5,1116.00V1108.17M462.5,662.00V670.83M525.5,1116.00V1108.17M525.5,662.00V670.83M117.00,709.5H125.33M571.00,709.5H562.67M117.00,771.5H125.33M571.00,771.5H562.67M117.00,834.5H125.33M571.00,834.5H562.67M117.00,897.5H125.33M571.00,897.5H562.67M117.00,959.5H125.33M571.00,959.5H562.67M117.00,1022.5H125.33M571.00,1022.5H562.67M117.00,1084.5H125.33M571.00,1084.5H562.67" stroke="#000" stroke-width="1" fill="none" shape-rendering="crispEdges"/>
<rect x="125.10" y="669.00" width="145.20" height="71.80" fill="#fff" stroke="#000" stroke-width="2.0" shape-rendering="crispEdges"/>
<rect x="117.00" y="662.00" width="454.00" height="454.00" fill="none" stroke="#000" stroke-width="2.0" shape-rendering="crispEdges"/>
<text x="128.06" y="686.90" font-family="Liberation Sans" font-size="19.88" textLength="137.41" lengthAdjust="spacingAndGlyphs">slope = -0.749</text>
<text x="128.39" y="708.70" font-family="Liberation Serif" font-style="italic" font-size="20.00" textLength="8.41" lengthAdjust="spacingAndGlyphs">r</text>
<text x="143.49" y="708.70" font-family="Liberation Sans" font-size="19.88" textLength="81.70" lengthAdjust="spacingAndGlyphs">= -0.989</text>
<text x="130.71" y="730.30" font-family="Liberation Serif" font-style="italic" font-size="20.00" textLength="13.79" lengthAdjust="spacingAndGlyphs">M</text>
<text x="148.52" y="733.70" font-family="Liberation Serif" font-style="italic" font-size="14.00" textLength="8.21" lengthAdjust="spacingAndGlyphs">A</text>
<text x="163.98" y="730.30" font-family="Liberation Sans" font-size="19.88" textLength="75.19" lengthAdjust="spacingAndGlyphs">= 0.753</text>
<text x="127.71" y="1137.70" font-family="Liberation Sans" font-size="17.67" textLength="43.98" lengthAdjust="spacingAndGlyphs">−150</text>
<text x="190.31" y="1137.70" font-family="Liberation Sans" font-size="17.67" textLength="43.98" lengthAdjust="spacingAndGlyphs">−100</text>
<text x="258.14" y="1137.70" font-family="Liberation Sans" font-size="17.67" textLength="33.47" lengthAdjust="spacingAndGlyphs">−50</text>
<text x="332.87" y="1137.70" font-family="Liberation Sans" font-size="17.67" textLength="9.51" lengthAdjust="spacingAndGlyphs">0</text>
<text x="390.13" y="1137.70" font-family="Liberation Sans" font-size="17.67" textLength="20.11" lengthAdjust="spacingAndGlyphs">50</text>
<text x="447.29" y="1137.70" font-family="Liberation Sans" font-size="17.67" textLength="30.42" lengthAdjust="spacingAndGlyphs">100</text>
<text x="509.89" y="1137.70" font-family="Liberation Sans" font-size="17.67" textLength="30.42" lengthAdjust="spacingAndGlyphs">150</text>
<text x="77.52" y="713.50" font-family="Liberation Sans" font-size="17.67" textLength="30.26" lengthAdjust="spacingAndGlyphs">150</text>
<text x="77.52" y="776.10" font-family="Liberation Sans" font-size="17.67" textLength="30.26" lengthAdjust="spacingAndGlyphs">100</text>
<text x="87.84" y="838.70" font-family="Liberation Sans" font-size="17.67" textLength="20.01" lengthAdjust="spacingAndGlyphs">50</text>
<text x="98.29" y="901.30" font-family="Liberation Sans" font-size="17.67" textLength="9.47" lengthAdjust="spacingAndGlyphs">0</text>
<text x="74.52" y="963.90" font-family="Liberation Sans" font-size="17.67" textLength="33.30" lengthAdjust="spacingAndGlyphs">−50</text>
<text x="64.12" y="1026.50" font-family="Liberation Sans" font-size="17.67" textLength="43.75" lengthAdjust="spacingAndGlyphs">−100</text>
<text x="64.12" y="1089.10" font-family="Liberation Sans" font-size="17.67" textLength="43.75" lengthAdjust="spacingAndGlyphs">−150</text>
<text x="285.69" y="649.80" font-family="Liberation Sans" font-size="24.73" textLength="116.63" lengthAdjust="spacingAndGlyphs">WalenTest</text>
<text x="307.08" y="1168.00" font-family="Liberation Sans" font-size="17.70" textLength="11.20" lengthAdjust="spacingAndGlyphs">V</text>
<text x="320.03" y="1169.60" font-family="Liberation Serif" font-style="italic" font-size="13.00" textLength="6.72" lengthAdjust="spacingAndGlyphs">A</text>
<text x="327.98" y="1168.00" font-family="Liberation Sans" font-size="17.70" textLength="53.24" lengthAdjust="spacingAndGlyphs">(km/s)</text>
<g transform="rotate(-90 44.80 949.80)">
<text x="44.68" y="949.80" font-family="Liberation Sans" font-size="17.70" textLength="11.00" lengthAdjust="spacingAndGlyphs">V</text>
</g>
<g transform="rotate(-90 47.40 937.40)">
<text x="46.86" y="937.40" font-family="Liberation Serif" font-style="italic" font-size="12.50" textLength="55.30" lengthAdjust="spacingAndGlyphs">remaining</text>
</g>
<g transform="rotate(-90 44.80 880.70)">
<text x="43.62" y="880.70" font-family="Liberation Sans" font-size="17.70" textLength="51.88" lengthAdjust="spacingAndGlyphs">(km/s)</text>
</g>
<line x1="709.50" y1="1116.50" x2="709.50" y2="662.00" stroke="#000000" stroke-width="1.0" stroke-dasharray="2.08 6.25" shape-rendering="crispEdges" stroke-linecap="butt"/>
<line x1="800.50" y1="1116.50" x2="800.50" y2="662.00" stroke="#000000" stroke-width="1.0" stroke-dasharray="2.08 6.25" shape-rendering="crispEdges" stroke-linecap="butt"/>
<line x1="890.50" y1="1116.50" x2="890.50" y2="662.00" stroke="#000000" stroke-width="1.0" stroke-dasharray="2.08 6.25" shape-rendering="crispEdges" stroke-linecap="butt"/>
<line x1="981.50" y1="1116.50" x2="981.50" y2="662.00" stroke="#000000" stroke-width="1.0" stroke-dasharray="2.08 6.25" shape-rendering="crispEdges" stroke-linecap="butt"/>
<line x1="1072.50" y1="1116.50" x2="1072.50" y2="662.00" stroke="#000000" stroke-width="1.0" stroke-dasharray="2.08 6.25" shape-rendering="crispEdges" stroke-linecap="butt"/>
<line x1="673.00" y1="1025.50" x2="1127.00" y2="1025.50" stroke="#000000" stroke-width="1.0" stroke-dasharray="2.08 6.25" shape-rendering="crispEdges" stroke-linecap="butt"/>
<line x1="673.00" y1="935.50" x2="1127.00" y2="935.50" stroke="#000000" stroke-width="1.0" stroke-dasharray="2.08 6.25" shape-rendering="crispEdges" stroke-linecap="butt"/>
<line x1="673.00" y1="844.50" x2="1127.00" y2="844.50" stroke="#000000" stroke-width="1.0" stroke-dasharray="2.08 6.25" shape-rendering="crispEdges" stroke-linecap="butt"/>
<line x1="673.00" y1="753.50" x2="1127.00" y2="753.50" stroke="#000000" stroke-width="1.0" stroke-dasharray="2.08 6.25" shape-rendering="crispEdges" stroke-linecap="butt"/>
<path d="M709.5,1116.00V1108.17M709.5,662.00V670.83M800.5,1116.00V1108.17M800.5,662.00V670.83M890.5,1116.00V1108.17M890.5,662.00V670.83M981.5,1116.00V1108.17M981.5,662.00V670.83M1072.5,1116.00V1108.17M1072.5,662.00V670.83M673.00,1025.5H681.33M1127.00,1025.5H1118.67M673.00,935.5H681.33M1127.00,935.5H1118.67M673.00,844.5H681.33M1127.00,844.5H1118.67M673.00,753.5H681.33M1127.00,753.5H1118.67" stroke="#000" stroke-width="1" fill="none" shape-rendering="crispEdges"/>
<polyline points="965.30,687.50 975.50,669.50 971.20,666.20 917.20,779.10 853.30,915.30 835.30,925.80 845.20,919.90 842.90,972.30 852.70,954.30 876.30,1002.40 878.20,1017.20 889.40,1033.50 891.30,1041.10 925.40,1082.00 932.90,1083.60 953.20,1095.10 967.90,1108.20 964.70,1103.30 899.80,1042.10 937.80,1077.10 934.50,1076.40 977.80,1105.90" fill="none" stroke="#0000ff" stroke-width="2.08" stroke-linejoin="round" stroke-linecap="butt" clip-path="url(#p5)"/>
<g fill="#0000ff" clip-path="url(#p5)"><circle cx="965.30" cy="687.50" r="3.6"/><circle cx="975.50" cy="669.50" r="3.6"/><circle cx="971.20" cy="666.20" r="3.6"/><circle cx="917.20" cy="779.10" r="3.6"/><circle cx="853.30" cy="915.30" r="3.6"/><circle cx="835.30" cy="925.80" r="3.6"/><circle cx="845.20" cy="919.90" r="3.6"/><circle cx="842.90" cy="972.30" r="3.6"/><circle cx="852.70" cy="954.30" r="3.6"/><circle cx="876.30" cy="1002.40" r="3.6"/><circle cx="878.20" cy="1017.20" r="3.6"/><circle cx="889.40" cy="1033.50" r="3.6"/><circle cx="891.30" cy="1041.10" r="3.6"/><circle cx="925.40" cy="1082.00" r="3.6"/><circle cx="932.90" cy="1083.60" r="3.6"/><circle cx="953.20" cy="1095.10" r="3.6"/><circle cx="967.90" cy="1108.20" r="3.6"/><circle cx="964.70" cy="1103.30" r="3.6"/><circle cx="899.80" cy="1042.10" r="3.6"/><circle cx="937.80" cy="1077.10" r="3.6"/><circle cx="934.50" cy="1076.40" r="3.6"/><circle cx="977.80" cy="1105.90" r="3.6"/></g>
<rect x="673.00" y="662.00" width="454.00" height="454.00" fill="none" stroke="#000" stroke-width="2.0" shape-rendering="crispEdges"/>
<text x="687.31" y="1137.70" font-family="Liberation Sans" font-size="17.67" textLength="43.98" lengthAdjust="spacingAndGlyphs">−200</text>
<text x="778.06" y="1137.70" font-family="Liberation Sans" font-size="17.67" textLength="43.98" lengthAdjust="spacingAndGlyphs">−150</text>
<text x="868.81" y="1137.70" font-family="Liberation Sans" font-size="17.67" textLength="43.98" lengthAdjust="spacingAndGlyphs">−100</text>
<text x="964.79" y="1137.70" font-family="Liberation Sans" font-size="17.67" textLength="33.47" lengthAdjust="spacingAndGlyphs">−50</text>
<text x="1067.67" y="1137.70" font-family="Liberation Sans" font-size="17.67" textLength="9.51" lengthAdjust="spacingAndGlyphs">0</text>
<text x="620.12" y="1120.90" font-family="Liberation Sans" font-size="17.67" textLength="43.75" lengthAdjust="spacingAndGlyphs">−150</text>
<text x="620.12" y="1030.10" font-family="Liberation Sans" font-size="17.67" textLength="43.75" lengthAdjust="spacingAndGlyphs">−100</text>
<text x="630.52" y="939.30" font-family="Liberation Sans" font-size="17.67" textLength="33.30" lengthAdjust="spacingAndGlyphs">−50</text>
<text x="654.29" y="848.50" font-family="Liberation Sans" font-size="17.67" textLength="9.47" lengthAdjust="spacingAndGlyphs">0</text>
<text x="643.84" y="757.70" font-family="Liberation Sans" font-size="17.67" textLength="20.01" lengthAdjust="spacingAndGlyphs">50</text>
<text x="633.52" y="666.90" font-family="Liberation Sans" font-size="17.67" textLength="30.26" lengthAdjust="spacingAndGlyphs">100</text>
<text x="863.12" y="1166.90" font-family="Liberation Sans" font-size="17.67" textLength="74.83" lengthAdjust="spacingAndGlyphs">V2(km/s)</text>
<g transform="rotate(-90 604.10 927.80)">
<text x="603.97" y="927.80" font-family="Liberation Sans" font-size="17.70" textLength="73.97" lengthAdjust="spacingAndGlyphs">V1(km/s)</text>
</g>
<line x1="1311.50" y1="1116.50" x2="1311.50" y2="662.00" stroke="#000000" stroke-width="1.0" stroke-dasharray="2.08 6.25" shape-rendering="crispEdges" stroke-linecap="butt"/>
<line x1="1402.50" y1="1116.50" x2="1402.50" y2="662.00" stroke="#000000" stroke-width="1.0" stroke-dasharray="2.08 6.25" shape-rendering="crispEdges" stroke-linecap="butt"/>
<line x1="1492.50" y1="1116.50" x2="1492.50" y2="662.00" stroke="#000000" stroke-width="1.0" stroke-dasharray="2.08 6.25" shape-rendering="crispEdges" stroke-linecap="butt"/>
<line x1="1583.50" y1="1116.50" x2="1583.50" y2="662.00" stroke="#000000" stroke-width="1.0" stroke-dasharray="2.08 6.25" shape-rendering="crispEdges" stroke-linecap="butt"/>
<line x1="1674.50" y1="1116.50" x2="1674.50" y2="662.00" stroke="#000000" stroke-width="1.0" stroke-dasharray="2.08 6.25" shape-rendering="crispEdges" stroke-linecap="butt"/>
<line x1="1229.00" y1="1025.50" x2="1683.00" y2="1025.50" stroke="#000000" stroke-width="1.0" stroke-dasharray="2.08 6.25" shape-rendering="crispEdges" stroke-linecap="butt"/>
<line x1="1229.00" y1="935.50" x2="1683.00" y2="935.50" stroke="#000000" stroke-width="1.0" stroke-dasharray="2.08 6.25" shape-rendering="crispEdges" stroke-linecap="butt"/>
<line x1="1229.00" y1="844.50" x2="1683.00" y2="844.50" stroke="#000000" stroke-width="1.0" stroke-dasharray="2.08 6.25" shape-rendering="crispEdges" stroke-linecap="butt"/>
<line x1="1229.00" y1="753.50" x2="1683.00" y2="753.50" stroke="#000000" stroke-width="1.0" stroke-dasharray="2.08 6.25" shape-rendering="crispEdges" stroke-linecap="butt"/>
<path d="M1311.5,1116.00V1108.17M1311.5,662.00V670.83M1402.5,1116.00V1108.17M1402.5,662.00V670.83M1492.5,1116.00V1108.17M1492.5,662.00V670.83M1583.5,1116.00V1108.17M1583.5,662.00V670.83M1674.5,1116.00V1108.17M1674.5,662.00V670.83M1229.00,1025.5H1237.33M1683.00,1025.5H1674.67M1229.00,935.5H1237.33M1683.00,935.5H1674.67M1229.00,844.5H1237.33M1683.00,844.5H1674.67M1229.00,753.5H1237.33M1683.00,753.5H1674.67" stroke="#000" stroke-width="1" fill="none" shape-rendering="crispEdges"/>
<polyline points="1435.50,687.50 1471.60,669.50 1464.40,666.20 1423.40,779.10 1452.90,915.30 1484.70,925.20 1467.30,926.50 1431.30,920.00 1457.20,972.30 1456.20,954.30 1446.30,1002.40 1440.50,1017.20 1447.70,1033.20 1445.40,1037.90 1446.40,1041.90 1436.70,1076.80 1449.40,1083.30 1462.60,1095.50 1468.60,1082.30 1446.40,1041.90 1452.40,1077.30 1455.50,1090.00 1457.40,1100.70 1467.30,1108.20 1451.40,1106.20 1436.70,1076.80" fill="none" stroke="#0000ff" stroke-width="2.08" stroke-linejoin="round" stroke-linecap="butt" clip-path="url(#p6)"/>
<g fill="#0000ff" clip-path="url(#p6)"><circle cx="1435.50" cy="687.50" r="3.6"/><circle cx="1471.60" cy="669.50" r="3.6"/><circle cx="1464.40" cy="666.20" r="3.6"/><circle cx="1423.40" cy="779.10" r="3.6"/><circle cx="1452.90" cy="915.30" r="3.6"/><circle cx="1484.70" cy="925.20" r="3.6"/><circle cx="1467.30" cy="926.50" r="3.6"/><circle cx="1431.30" cy="920.00" r="3.6"/><circle cx="1457.20" cy="972.30" r="3.6"/><circle cx="1456.20" cy="954.30" r="3.6"/><circle cx="1446.30" cy="1002.40" r="3.6"/><circle cx="1440.50" cy="1017.20" r="3.6"/><circle cx="1447.70" cy="1033.20" r="3.6"/><circle cx="1445.40" cy="1037.90" r="3.6"/><circle cx="1446.40" cy="1041.90" r="3.6"/><circle cx="1436.70" cy="1076.80" r="3.6"/><circle cx="1449.40" cy="1083.30" r="3.6"/><circle cx="1462.60" cy="1095.50" r="3.6"/><circle cx="1468.60" cy="1082.30" r="3.6"/><circle cx="1446.40" cy="1041.90" r="3.6"/><circle cx="1452.40" cy="1077.30" r="3.6"/><circle cx="1455.50" cy="1090.00" r="3.6"/><circle cx="1457.40" cy="1100.70" r="3.6"/><circle cx="1467.30" cy="1108.20" r="3.6"/><circle cx="1451.40" cy="1106.20" r="3.6"/><circle cx="1436.70" cy="1076.80" r="3.6"/></g>
<rect x="1229.00" y="662.00" width="454.00" height="454.00" fill="none" stroke="#000" stroke-width="2.0" shape-rendering="crispEdges"/>
<text x="1289.31" y="1137.70" font-family="Liberation Sans" font-size="17.67" textLength="43.98" lengthAdjust="spacingAndGlyphs">−100</text>
<text x="1385.29" y="1137.70" font-family="Liberation Sans" font-size="17.67" textLength="33.47" lengthAdjust="spacingAndGlyphs">−50</text>
<text x="1488.17" y="1137.70" font-family="Liberation Sans" font-size="17.67" textLength="9.51" lengthAdjust="spacingAndGlyphs">0</text>
<text x="1573.58" y="1137.70" font-family="Liberation Sans" font-size="17.67" textLength="20.11" lengthAdjust="spacingAndGlyphs">50</text>
<text x="1658.89" y="1137.70" font-family="Liberation Sans" font-size="17.67" textLength="30.42" lengthAdjust="spacingAndGlyphs">100</text>
<text x="1176.12" y="1120.90" font-family="Liberation Sans" font-size="17.67" textLength="43.75" lengthAdjust="spacingAndGlyphs">−150</text>
<text x="1176.12" y="1030.10" font-family="Liberation Sans" font-size="17.67" textLength="43.75" lengthAdjust="spacingAndGlyphs">−100</text>
<text x="1186.52" y="939.30" font-family="Liberation Sans" font-size="17.67" textLength="33.30" lengthAdjust="spacingAndGlyphs">−50</text>
<text x="1210.29" y="848.50" font-family="Liberation Sans" font-size="17.67" textLength="9.47" lengthAdjust="spacingAndGlyphs">0</text>
<text x="1199.84" y="757.70" font-family="Liberation Sans" font-size="17.67" textLength="20.01" lengthAdjust="spacingAndGlyphs">50</text>
<text x="1189.52" y="666.90" font-family="Liberation Sans" font-size="17.67" textLength="30.26" lengthAdjust="spacingAndGlyphs">100</text>
<text x="1419.12" y="1166.90" font-family="Liberation Sans" font-size="17.67" textLength="74.83" lengthAdjust="spacingAndGlyphs">V3(km/s)</text>
<g transform="rotate(-90 1160.10 927.80)">
<text x="1159.97" y="927.80" font-family="Liberation Sans" font-size="17.70" textLength="73.97" lengthAdjust="spacingAndGlyphs">V1(km/s)</text>
</g>
<text x="686.24" y="1092.00" font-family="Liberation Serif" font-style="italic" font-size="19.00" textLength="8.88" lengthAdjust="spacingAndGlyphs">λ</text>
<text x="694.85" y="1094.60" font-family="Liberation Serif" font-size="13.00" textLength="6.04" lengthAdjust="spacingAndGlyphs">1</text>
<text x="703.60" y="1093.80" font-family="Liberation Serif" font-size="20.00" textLength="7.21" lengthAdjust="spacingAndGlyphs">/</text>
<text x="713.95" y="1092.00" font-family="Liberation Serif" font-style="italic" font-size="19.00" textLength="8.98" lengthAdjust="spacingAndGlyphs">λ</text>
<text x="722.24" y="1094.60" font-family="Liberation Serif" font-size="13.00" textLength="7.26" lengthAdjust="spacingAndGlyphs">2</text>
<text x="734.91" y="1093.00" font-family="Liberation Serif" font-size="19.00" textLength="14.43" lengthAdjust="spacingAndGlyphs">≈</text>
<text x="755.67" y="1092.00" font-family="Liberation Sans" font-size="19.88" textLength="41.16" lengthAdjust="spacingAndGlyphs">8.06</text>
<text x="1262.54" y="1092.00" font-family="Liberation Serif" font-style="italic" font-size="19.00" textLength="8.88" lengthAdjust="spacingAndGlyphs">λ</text>
<text x="1271.15" y="1094.60" font-family="Liberation Serif" font-size="13.00" textLength="6.04" lengthAdjust="spacingAndGlyphs">1</text>
<text x="1279.90" y="1093.80" font-family="Liberation Serif" font-size="20.00" textLength="7.21" lengthAdjust="spacingAndGlyphs">/</text>
<text x="1290.25" y="1092.00" font-family="Liberation Serif" font-style="italic" font-size="19.00" textLength="8.98" lengthAdjust="spacingAndGlyphs">λ</text>
<text x="1298.40" y="1094.60" font-family="Liberation Serif" font-size="13.00" textLength="7.26" lengthAdjust="spacingAndGlyphs">3</text>
<text x="1311.21" y="1093.00" font-family="Liberation Serif" font-size="19.00" textLength="14.43" lengthAdjust="spacingAndGlyphs">≈</text>
<text x="1331.96" y="1092.00" font-family="Liberation Sans" font-size="19.88" textLength="53.23" lengthAdjust="spacingAndGlyphs">98.36</text>
<text x="677.75" y="649.80" font-family="Liberation Sans" font-size="24.73" textLength="284.74" lengthAdjust="spacingAndGlyphs">Hodogram (V2_V1 MVAV</text>
<text x="959.90" y="653.30" font-family="Liberation Serif" font-style="italic" font-size="17.00" textLength="77.46" lengthAdjust="spacingAndGlyphs">remaining</text>
<text x="1044.99" y="649.80" font-family="Liberation Sans" font-size="24.73" textLength="77.85" lengthAdjust="spacingAndGlyphs">frame)</text>
<text x="1233.85" y="649.80" font-family="Liberation Sans" font-size="24.73" textLength="284.74" lengthAdjust="spacingAndGlyphs">Hodogram (V3_V1 MVAV</text>
<text x="1516.00" y="653.30" font-family="Liberation Serif" font-style="italic" font-size="17.00" textLength="77.46" lengthAdjust="spacingAndGlyphs">remaining</text>
<text x="1601.09" y="649.80" font-family="Liberation Sans" font-size="24.73" textLength="77.85" lengthAdjust="spacingAndGlyphs">frame)</text>
<line x1="117.00" y1="1432.50" x2="1683.00" y2="1432.50" stroke="#000000" stroke-width="1.0" stroke-dasharray="12.5 12.5" shape-rendering="crispEdges" stroke-linecap="butt"/>
<polyline points="117.00,1339.50 179.64,1336.20 242.28,1340.40 304.92,1342.20 367.56,1339.80 430.20,1337.10 492.84,1337.40 555.48,1334.70 618.12,1333.20 680.76,1333.80 743.40,1333.80 806.04,1333.50 868.68,1334.10 931.32,1335.00 993.96,1340.70 1056.60,1348.70 1119.24,1357.70 1181.88,1358.00 1244.52,1365.50 1307.16,1365.70 1369.80,1368.20 1432.44,1363.70 1495.08,1419.50 1557.72,1469.80 1620.36,1482.90 1683.00,1472.30" fill="none" stroke="#ff0000" stroke-width="2.08" stroke-linejoin="round" stroke-linecap="butt" clip-path="url(#ts0)"/>
<polyline points="117.00,1418.70 179.64,1436.90 242.28,1451.00 304.92,1465.30 367.56,1462.30 430.20,1460.80 492.84,1431.80 555.48,1437.50 618.12,1440.50 680.76,1438.40 743.40,1435.10 806.04,1430.30 868.68,1429.10 931.32,1435.40 993.96,1456.10 1056.60,1471.00 1119.24,1483.30 1181.88,1480.90 1244.52,1491.60 1307.16,1486.40 1369.80,1484.80 1432.44,1480.30 1495.08,1509.80 1557.72,1507.60 1620.36,1496.30 1683.00,1508.80" fill="none" stroke="#008000" stroke-width="2.08" stroke-linejoin="round" stroke-linecap="butt" clip-path="url(#ts0)"/>
<polyline points="117.00,1416.60 179.64,1437.50 242.28,1449.50 304.92,1459.00 367.56,1453.40 430.20,1447.70 492.84,1456.40 555.48,1438.10 618.12,1436.00 680.76,1435.40 743.40,1432.70 806.04,1436.60 868.68,1432.40 931.32,1438.10 993.96,1457.80 1056.60,1469.50 1119.24,1474.00 1181.88,1478.80 1244.52,1475.80 1307.16,1483.20 1369.80,1486.40 1432.44,1483.50 1495.08,1484.50 1557.72,1469.10 1620.36,1476.80 1683.00,1466.90" fill="none" stroke="#0000ff" stroke-width="2.08" stroke-linejoin="round" stroke-linecap="butt" clip-path="url(#ts0)"/>
<path d="M117.5,1526.70V1518.87M117.5,1305.00V1313.83M430.5,1526.70V1518.87M430.5,1305.00V1313.83M743.5,1526.70V1518.87M743.5,1305.00V1313.83M1056.5,1526.70V1518.87M1056.5,1305.00V1313.83M1369.5,1526.70V1518.87M1369.5,1305.00V1313.83M1683.5,1526.70V1518.87M1683.5,1305.00V1313.83M117.00,1305.5H125.33M1683.00,1305.5H1674.67M117.00,1337.5H125.33M1683.00,1337.5H1674.67M117.00,1368.5H125.33M1683.00,1368.5H1674.67M117.00,1400.5H125.33M1683.00,1400.5H1674.67M117.00,1432.5H125.33M1683.00,1432.5H1674.67M117.00,1463.5H125.33M1683.00,1463.5H1674.67M117.00,1495.5H125.33M1683.00,1495.5H1674.67M117.00,1527.5H125.33M1683.00,1527.5H1674.67" stroke="#000" stroke-width="1" fill="none" shape-rendering="crispEdges"/>
<rect x="117.00" y="1305.00" width="1566.00" height="221.70" fill="none" stroke="#000" stroke-width="2.0" shape-rendering="crispEdges"/>
<text x="53.34" y="1549.80" font-family="Liberation Sans" font-size="17.67" textLength="126.91" lengthAdjust="spacingAndGlyphs">12/19 17:57:31</text>
<text x="366.35" y="1549.80" font-family="Liberation Sans" font-size="17.67" textLength="127.29" lengthAdjust="spacingAndGlyphs">12/19 17:57:36</text>
<text x="679.74" y="1549.80" font-family="Liberation Sans" font-size="17.67" textLength="126.91" lengthAdjust="spacingAndGlyphs">12/19 17:57:41</text>
<text x="992.75" y="1549.80" font-family="Liberation Sans" font-size="17.67" textLength="127.29" lengthAdjust="spacingAndGlyphs">12/19 17:57:46</text>
<text x="1306.14" y="1549.80" font-family="Liberation Sans" font-size="17.67" textLength="126.91" lengthAdjust="spacingAndGlyphs">12/19 17:57:51</text>
<text x="1619.15" y="1549.80" font-family="Liberation Sans" font-size="17.67" textLength="127.29" lengthAdjust="spacingAndGlyphs">12/19 17:57:56</text>
<text x="87.71" y="1309.90" font-family="Liberation Sans" font-size="17.67" textLength="20.14" lengthAdjust="spacingAndGlyphs">80</text>
<text x="87.57" y="1341.57" font-family="Liberation Sans" font-size="17.67" textLength="20.28" lengthAdjust="spacingAndGlyphs">60</text>
<text x="87.73" y="1373.24" font-family="Liberation Sans" font-size="17.67" textLength="20.12" lengthAdjust="spacingAndGlyphs">40</text>
<text x="87.57" y="1404.91" font-family="Liberation Sans" font-size="17.67" textLength="20.28" lengthAdjust="spacingAndGlyphs">20</text>
<text x="98.29" y="1436.59" font-family="Liberation Sans" font-size="17.67" textLength="9.47" lengthAdjust="spacingAndGlyphs">0</text>
<text x="74.52" y="1468.26" font-family="Liberation Sans" font-size="17.67" textLength="33.30" lengthAdjust="spacingAndGlyphs">−20</text>
<text x="74.52" y="1499.93" font-family="Liberation Sans" font-size="17.67" textLength="33.30" lengthAdjust="spacingAndGlyphs">−40</text>
<text x="74.52" y="1531.60" font-family="Liberation Sans" font-size="17.67" textLength="33.30" lengthAdjust="spacingAndGlyphs">−60</text>
<text x="739.77" y="1294.90" font-family="Liberation Sans" font-size="24.73" textLength="319.95" lengthAdjust="spacingAndGlyphs">Magnetic Field (RTN Frame)</text>
<rect x="1604.00" y="1312.00" width="72.10" height="71.60" fill="#fff" stroke="#000" stroke-width="2.0" shape-rendering="crispEdges"/>
<line x1="1613.00" y1="1324.90" x2="1636.00" y2="1324.90" stroke="#ff0000" stroke-width="2.08" stroke-linecap="butt"/>
<line x1="1613.00" y1="1346.90" x2="1636.00" y2="1346.90" stroke="#008000" stroke-width="2.08" stroke-linecap="butt"/>
<line x1="1613.00" y1="1369.90" x2="1636.00" y2="1369.90" stroke="#0000ff" stroke-width="2.08" stroke-linecap="butt"/>
<line x1="117.00" y1="1766.50" x2="1683.00" y2="1766.50" stroke="#000000" stroke-width="1.0" stroke-dasharray="12.5 12.5" shape-rendering="crispEdges" stroke-linecap="butt"/>
<polyline points="117.00,1858.20 179.64,1849.80 242.28,1838.80 304.92,1831.60 367.56,1836.40 430.20,1840.90 492.84,1844.20 555.48,1851.60 618.12,1852.80 680.76,1853.10 743.40,1854.60 806.04,1854.60 868.68,1855.50 931.32,1851.60 993.96,1835.20 1056.60,1821.10 1119.24,1808.90 1181.88,1807.10 1244.52,1799.50 1307.16,1798.00 1369.80,1794.80 1432.44,1800.90 1495.08,1743.50 1557.72,1701.90 1620.36,1691.70 1683.00,1700.30" fill="none" stroke="#ff0000" stroke-width="2.08" stroke-linejoin="round" stroke-linecap="butt" clip-path="url(#ts1)"/>
<polyline points="117.00,1759.00 179.64,1757.80 242.28,1759.00 304.92,1763.40 367.56,1764.60 430.20,1767.90 492.84,1740.70 555.48,1756.90 618.12,1761.10 680.76,1760.20 743.40,1759.00 806.04,1753.60 868.68,1755.10 931.32,1756.00 993.96,1758.10 1056.60,1760.80 1119.24,1767.60 1181.88,1762.90 1244.52,1772.70 1307.16,1764.40 1369.80,1761.20 1432.44,1758.90 1495.08,1783.60 1557.72,1796.40 1620.36,1784.90 1683.00,1799.00" fill="none" stroke="#008000" stroke-width="2.08" stroke-linejoin="round" stroke-linecap="butt" clip-path="url(#ts1)"/>
<polyline points="117.00,1748.20 179.64,1721.30 242.28,1704.90 304.92,1691.40 367.56,1695.90 430.20,1699.20 492.84,1713.20 555.48,1720.70 618.12,1719.80 680.76,1721.30 743.40,1724.90 806.04,1726.10 868.68,1729.10 931.32,1721.60 993.96,1697.40 1056.60,1683.00 1119.24,1675.90 1181.88,1674.40 1244.52,1672.40 1307.16,1670.50 1369.80,1671.20 1432.44,1673.70 1495.08,1675.00 1557.72,1705.10 1620.36,1710.90 1683.00,1707.00" fill="none" stroke="#0000ff" stroke-width="2.08" stroke-linejoin="round" stroke-linecap="butt" clip-path="url(#ts1)"/>
<polyline points="117.00,1670.80 179.64,1669.60 242.28,1670.20 304.92,1665.70 367.56,1665.70 430.20,1664.50 492.84,1667.80 555.48,1667.80 618.12,1666.30 680.76,1667.20 743.40,1667.20 806.04,1666.90 868.68,1667.80 931.32,1668.40 993.96,1666.90 1056.60,1665.70 1119.24,1665.70 1181.88,1664.80 1244.52,1666.00 1307.16,1665.10 1369.80,1666.40 1432.44,1667.00 1495.08,1670.80 1557.72,1673.10 1620.36,1671.50 1683.00,1671.20" fill="none" stroke="#000000" stroke-width="2.08" stroke-linejoin="round" stroke-linecap="butt" clip-path="url(#ts1)"/>
<path d="M117.5,1860.70V1852.87M117.5,1639.00V1647.83M430.5,1860.70V1852.87M430.5,1639.00V1647.83M743.5,1860.70V1852.87M743.5,1639.00V1647.83M1056.5,1860.70V1852.87M1056.5,1639.00V1647.83M1369.5,1860.70V1852.87M1369.5,1639.00V1647.83M1683.5,1860.70V1852.87M1683.5,1639.00V1647.83M117.00,1639.5H125.33M1683.00,1639.5H1674.67M117.00,1671.5H125.33M1683.00,1671.5H1674.67M117.00,1702.5H125.33M1683.00,1702.5H1674.67M117.00,1734.5H125.33M1683.00,1734.5H1674.67M117.00,1766.5H125.33M1683.00,1766.5H1674.67M117.00,1797.5H125.33M1683.00,1797.5H1674.67M117.00,1829.5H125.33M1683.00,1829.5H1674.67M117.00,1861.5H125.33M1683.00,1861.5H1674.67" stroke="#000" stroke-width="1" fill="none" shape-rendering="crispEdges"/>
<rect x="117.00" y="1639.00" width="1566.00" height="221.70" fill="none" stroke="#000" stroke-width="2.0" shape-rendering="crispEdges"/>
<text x="53.34" y="1883.80" font-family="Liberation Sans" font-size="17.67" textLength="126.91" lengthAdjust="spacingAndGlyphs">12/19 17:57:31</text>
<text x="366.35" y="1883.80" font-family="Liberation Sans" font-size="17.67" textLength="127.29" lengthAdjust="spacingAndGlyphs">12/19 17:57:36</text>
<text x="679.74" y="1883.80" font-family="Liberation Sans" font-size="17.67" textLength="126.91" lengthAdjust="spacingAndGlyphs">12/19 17:57:41</text>
<text x="992.75" y="1883.80" font-family="Liberation Sans" font-size="17.67" textLength="127.29" lengthAdjust="spacingAndGlyphs">12/19 17:57:46</text>
<text x="1306.14" y="1883.80" font-family="Liberation Sans" font-size="17.67" textLength="126.91" lengthAdjust="spacingAndGlyphs">12/19 17:57:51</text>
<text x="1619.15" y="1883.80" font-family="Liberation Sans" font-size="17.67" textLength="127.29" lengthAdjust="spacingAndGlyphs">12/19 17:57:56</text>
<text x="87.71" y="1643.90" font-family="Liberation Sans" font-size="17.67" textLength="20.14" lengthAdjust="spacingAndGlyphs">80</text>
<text x="87.57" y="1675.57" font-family="Liberation Sans" font-size="17.67" textLength="20.28" lengthAdjust="spacingAndGlyphs">60</text>
<text x="87.73" y="1707.24" font-family="Liberation Sans" font-size="17.67" textLength="20.12" lengthAdjust="spacingAndGlyphs">40</text>
<text x="87.57" y="1738.91" font-family="Liberation Sans" font-size="17.67" textLength="20.28" lengthAdjust="spacingAndGlyphs">20</text>
<text x="98.29" y="1770.59" font-family="Liberation Sans" font-size="17.67" textLength="9.47" lengthAdjust="spacingAndGlyphs">0</text>
<text x="74.52" y="1802.26" font-family="Liberation Sans" font-size="17.67" textLength="33.30" lengthAdjust="spacingAndGlyphs">−20</text>
<text x="74.52" y="1833.93" font-family="Liberation Sans" font-size="17.67" textLength="33.30" lengthAdjust="spacingAndGlyphs">−40</text>
<text x="74.52" y="1865.60" font-family="Liberation Sans" font-size="17.67" textLength="33.30" lengthAdjust="spacingAndGlyphs">−60</text>
<text x="705.49" y="1628.90" font-family="Liberation Sans" font-size="24.73" textLength="388.50" lengthAdjust="spacingAndGlyphs">Magnetic Field (Flux Rope Frame)</text>
<rect x="1601.00" y="1645.90" width="75.00" height="93.50" fill="#fff" stroke="#000" stroke-width="2.0" shape-rendering="crispEdges"/>
<line x1="1610.60" y1="1658.70" x2="1631.40" y2="1658.70" stroke="#ff0000" stroke-width="2.08" stroke-linecap="butt"/>
<line x1="1610.60" y1="1680.80" x2="1631.40" y2="1680.80" stroke="#008000" stroke-width="2.08" stroke-linecap="butt"/>
<line x1="1610.60" y1="1702.50" x2="1631.40" y2="1702.50" stroke="#0000ff" stroke-width="2.08" stroke-linecap="butt"/>
<line x1="1610.60" y1="1724.60" x2="1631.40" y2="1724.60" stroke="#000000" stroke-width="2.08" stroke-linecap="butt"/>
<polyline points="117.00,2039.30 179.64,2037.90 242.28,2035.20 304.92,2033.10 367.56,2035.20 430.20,2035.80 492.84,2038.70 555.48,2039.00 618.12,2038.20 680.76,2038.70 743.40,2039.60 806.04,2039.60 868.68,2039.00 931.32,2037.60 993.96,2034.60 1056.60,2030.40 1119.24,2025.30 1181.88,2028.90 1244.52,2021.70 1307.16,2022.40 1369.80,2021.80 1432.44,2019.90 1495.08,1997.70 1557.72,1977.90 1620.36,1978.20 1683.00,1982.10" fill="none" stroke="#ff0000" stroke-width="2.08" stroke-linejoin="round" stroke-linecap="butt" clip-path="url(#ts2)"/>
<polyline points="117.00,2184.60 179.64,2177.50 242.28,2173.90 304.92,2170.30 367.56,2172.70 430.20,2172.70 492.84,2180.80 555.48,2182.80 618.12,2178.10 680.76,2179.60 743.40,2183.70 806.04,2185.80 868.68,2183.40 931.32,2179.90 993.96,2172.70 1056.60,2169.70 1119.24,2166.40 1181.88,2166.70 1244.52,2161.20 1307.16,2164.60 1369.80,2166.50 1432.44,2164.00 1495.08,2159.20 1557.72,2162.40 1620.36,2163.70 1683.00,2159.80" fill="none" stroke="#008000" stroke-width="2.08" stroke-linejoin="round" stroke-linecap="butt" clip-path="url(#ts2)"/>
<polyline points="117.00,2167.90 179.64,2163.10 242.28,2156.80 304.92,2154.70 367.56,2156.20 430.20,2156.20 492.84,2159.20 555.48,2163.40 618.12,2163.10 680.76,2161.90 743.40,2165.80 806.04,2164.90 868.68,2164.90 931.32,2161.90 993.96,2155.60 1056.60,2153.20 1119.24,2147.90 1181.88,2147.60 1244.52,2148.70 1307.16,2143.80 1369.80,2142.20 1432.44,2147.30 1495.08,2152.80 1557.72,2150.90 1620.36,2150.90 1683.00,2153.70" fill="none" stroke="#0000ff" stroke-width="2.08" stroke-linejoin="round" stroke-linecap="butt" clip-path="url(#ts2)"/>
<path d="M117.5,2193.70V2185.87M117.5,1972.00V1980.83M430.5,2193.70V2185.87M430.5,1972.00V1980.83M743.5,2193.70V2185.87M743.5,1972.00V1980.83M1056.5,2193.70V2185.87M1056.5,1972.00V1980.83M1369.5,2193.70V2185.87M1369.5,1972.00V1980.83M1683.5,2193.70V2185.87M1683.5,1972.00V1980.83M117.00,1972.5H125.33M1683.00,1972.5H1674.67M117.00,2000.5H125.33M1683.00,2000.5H1674.67M117.00,2028.5H125.33M1683.00,2028.5H1674.67M117.00,2055.5H125.33M1683.00,2055.5H1674.67M117.00,2083.5H125.33M1683.00,2083.5H1674.67M117.00,2111.5H125.33M1683.00,2111.5H1674.67M117.00,2138.5H125.33M1683.00,2138.5H1674.67M117.00,2166.5H125.33M1683.00,2166.5H1674.67M117.00,2194.5H125.33M1683.00,2194.5H1674.67" stroke="#000" stroke-width="1" fill="none" shape-rendering="crispEdges"/>
<rect x="117.00" y="1972.00" width="1566.00" height="221.70" fill="none" stroke="#000" stroke-width="2.0" shape-rendering="crispEdges"/>
<text x="53.34" y="2216.80" font-family="Liberation Sans" font-size="17.67" textLength="126.91" lengthAdjust="spacingAndGlyphs">12/19 17:57:31</text>
<text x="366.35" y="2216.80" font-family="Liberation Sans" font-size="17.67" textLength="127.29" lengthAdjust="spacingAndGlyphs">12/19 17:57:36</text>
<text x="679.74" y="2216.80" font-family="Liberation Sans" font-size="17.67" textLength="126.91" lengthAdjust="spacingAndGlyphs">12/19 17:57:41</text>
<text x="992.75" y="2216.80" font-family="Liberation Sans" font-size="17.67" textLength="127.29" lengthAdjust="spacingAndGlyphs">12/19 17:57:46</text>
<text x="1306.14" y="2216.80" font-family="Liberation Sans" font-size="17.67" textLength="126.91" lengthAdjust="spacingAndGlyphs">12/19 17:57:51</text>
<text x="1619.15" y="2216.80" font-family="Liberation Sans" font-size="17.67" textLength="127.29" lengthAdjust="spacingAndGlyphs">12/19 17:57:56</text>
<text x="77.54" y="1976.90" font-family="Liberation Sans" font-size="17.67" textLength="30.24" lengthAdjust="spacingAndGlyphs">700</text>
<text x="77.28" y="2004.61" font-family="Liberation Sans" font-size="17.67" textLength="30.50" lengthAdjust="spacingAndGlyphs">600</text>
<text x="77.54" y="2032.33" font-family="Liberation Sans" font-size="17.67" textLength="30.24" lengthAdjust="spacingAndGlyphs">500</text>
<text x="77.44" y="2060.04" font-family="Liberation Sans" font-size="17.67" textLength="30.34" lengthAdjust="spacingAndGlyphs">400</text>
<text x="77.67" y="2087.75" font-family="Liberation Sans" font-size="17.67" textLength="30.10" lengthAdjust="spacingAndGlyphs">300</text>
<text x="77.28" y="2115.46" font-family="Liberation Sans" font-size="17.67" textLength="30.50" lengthAdjust="spacingAndGlyphs">200</text>
<text x="77.52" y="2143.17" font-family="Liberation Sans" font-size="17.67" textLength="30.26" lengthAdjust="spacingAndGlyphs">100</text>
<text x="98.29" y="2170.89" font-family="Liberation Sans" font-size="17.67" textLength="9.47" lengthAdjust="spacingAndGlyphs">0</text>
<text x="64.12" y="2198.60" font-family="Liberation Sans" font-size="17.67" textLength="43.75" lengthAdjust="spacingAndGlyphs">−100</text>
<text x="712.03" y="1961.90" font-family="Liberation Sans" font-size="24.73" textLength="376.34" lengthAdjust="spacingAndGlyphs">Solar Wind Velocity (RTN Frame)</text>
<rect x="1603.50" y="1978.90" width="72.50" height="72.00" fill="#fff" stroke="#000" stroke-width="2.0" shape-rendering="crispEdges"/>
<line x1="1613.00" y1="1991.70" x2="1636.00" y2="1991.70" stroke="#ff0000" stroke-width="2.08" stroke-linecap="butt"/>
<line x1="1613.00" y1="2013.80" x2="1636.00" y2="2013.80" stroke="#008000" stroke-width="2.08" stroke-linecap="butt"/>
<line x1="1613.00" y1="2036.20" x2="1636.00" y2="2036.20" stroke="#0000ff" stroke-width="2.08" stroke-linecap="butt"/>
<polyline points="117.00,2485.10 179.64,2475.80 242.28,2465.90 304.92,2460.20 367.56,2473.70 430.20,2476.70 492.84,2497.60 555.48,2500.00 618.12,2494.30 680.76,2502.40 743.40,2514.30 806.04,2502.10 868.68,2493.10 931.32,2492.80 993.96,2460.80 1056.60,2454.60 1119.24,2434.20 1181.88,2444.70 1244.52,2424.40 1307.16,2444.10 1369.80,2419.80 1432.44,2323.10 1495.08,2392.20 1557.72,2344.20 1620.36,2374.30 1683.00,2347.40" fill="none" stroke="#0000ff" stroke-width="2.08" stroke-linejoin="round" stroke-linecap="butt" clip-path="url(#ts3)"/>
<path d="M117.5,2527.70V2519.87M117.5,2306.00V2314.83M430.5,2527.70V2519.87M430.5,2306.00V2314.83M743.5,2527.70V2519.87M743.5,2306.00V2314.83M1056.5,2527.70V2519.87M1056.5,2306.00V2314.83M1369.5,2527.70V2519.87M1369.5,2306.00V2314.83M1683.5,2527.70V2519.87M1683.5,2306.00V2314.83M117.00,2306.5H125.33M1683.00,2306.5H1674.67M117.00,2331.5H125.33M1683.00,2331.5H1674.67M117.00,2355.5H125.33M1683.00,2355.5H1674.67M117.00,2380.5H125.33M1683.00,2380.5H1674.67M117.00,2405.5H125.33M1683.00,2405.5H1674.67M117.00,2429.5H125.33M1683.00,2429.5H1674.67M117.00,2454.5H125.33M1683.00,2454.5H1674.67M117.00,2479.5H125.33M1683.00,2479.5H1674.67M117.00,2503.5H125.33M1683.00,2503.5H1674.67M117.00,2528.5H125.33M1683.00,2528.5H1674.67" stroke="#000" stroke-width="1" fill="none" shape-rendering="crispEdges"/>
<rect x="117.00" y="2306.00" width="1566.00" height="221.70" fill="none" stroke="#000" stroke-width="2.0" shape-rendering="crispEdges"/>
<text x="53.34" y="2550.80" font-family="Liberation Sans" font-size="17.67" textLength="126.91" lengthAdjust="spacingAndGlyphs">12/19 17:57:31</text>
<text x="366.35" y="2550.80" font-family="Liberation Sans" font-size="17.67" textLength="127.29" lengthAdjust="spacingAndGlyphs">12/19 17:57:36</text>
<text x="679.74" y="2550.80" font-family="Liberation Sans" font-size="17.67" textLength="126.91" lengthAdjust="spacingAndGlyphs">12/19 17:57:41</text>
<text x="992.75" y="2550.80" font-family="Liberation Sans" font-size="17.67" textLength="127.29" lengthAdjust="spacingAndGlyphs">12/19 17:57:46</text>
<text x="1306.14" y="2550.80" font-family="Liberation Sans" font-size="17.67" textLength="126.91" lengthAdjust="spacingAndGlyphs">12/19 17:57:51</text>
<text x="1619.15" y="2550.80" font-family="Liberation Sans" font-size="17.67" textLength="127.29" lengthAdjust="spacingAndGlyphs">12/19 17:57:56</text>
<text x="72.77" y="2310.90" font-family="Liberation Sans" font-size="17.67" textLength="35.15" lengthAdjust="spacingAndGlyphs">0.22</text>
<text x="72.28" y="2335.53" font-family="Liberation Sans" font-size="17.67" textLength="35.53" lengthAdjust="spacingAndGlyphs">0.20</text>
<text x="72.28" y="2360.17" font-family="Liberation Sans" font-size="17.67" textLength="35.53" lengthAdjust="spacingAndGlyphs">0.18</text>
<text x="72.27" y="2384.80" font-family="Liberation Sans" font-size="17.67" textLength="35.66" lengthAdjust="spacingAndGlyphs">0.16</text>
<text x="72.16" y="2409.43" font-family="Liberation Sans" font-size="17.67" textLength="35.39" lengthAdjust="spacingAndGlyphs">0.14</text>
<text x="72.77" y="2434.07" font-family="Liberation Sans" font-size="17.67" textLength="35.15" lengthAdjust="spacingAndGlyphs">0.12</text>
<text x="72.28" y="2458.70" font-family="Liberation Sans" font-size="17.67" textLength="35.53" lengthAdjust="spacingAndGlyphs">0.10</text>
<text x="72.28" y="2483.33" font-family="Liberation Sans" font-size="17.67" textLength="35.53" lengthAdjust="spacingAndGlyphs">0.08</text>
<text x="72.27" y="2507.97" font-family="Liberation Sans" font-size="17.67" textLength="35.66" lengthAdjust="spacingAndGlyphs">0.06</text>
<text x="72.16" y="2532.60" font-family="Liberation Sans" font-size="17.67" textLength="35.39" lengthAdjust="spacingAndGlyphs">0.04</text>
<text x="827.33" y="2295.90" font-family="Liberation Sans" font-size="24.73" textLength="143.37" lengthAdjust="spacingAndGlyphs">Plasma Beta</text>
<polyline points="117.00,2735.00 179.64,2741.60 242.28,2742.80 304.92,2772.70 367.56,2755.70 430.20,2762.90 492.84,2761.40 555.48,2773.30 618.12,2773.30 680.76,2779.60 743.40,2785.90 806.04,2777.80 868.68,2754.50 931.32,2735.60 993.96,2730.30 1056.60,2741.00 1119.24,2753.90 1181.88,2758.40 1244.52,2757.90 1307.16,2786.10 1369.80,2765.30 1432.44,2672.40 1495.08,2807.90 1557.72,2845.40 1620.36,2848.90 1683.00,2809.20" fill="none" stroke="#0000ff" stroke-width="2.08" stroke-linejoin="round" stroke-linecap="butt" clip-path="url(#ts4)"/>
<path d="M117.5,2860.70V2852.87M117.5,2639.00V2647.83M430.5,2860.70V2852.87M430.5,2639.00V2647.83M743.5,2860.70V2852.87M743.5,2639.00V2647.83M1056.5,2860.70V2852.87M1056.5,2639.00V2647.83M1369.5,2860.70V2852.87M1369.5,2639.00V2647.83M1683.5,2860.70V2852.87M1683.5,2639.00V2647.83M117.00,2639.5H125.33M1683.00,2639.5H1674.67M117.00,2683.5H125.33M1683.00,2683.5H1674.67M117.00,2728.5H125.33M1683.00,2728.5H1674.67M117.00,2772.5H125.33M1683.00,2772.5H1674.67M117.00,2816.5H125.33M1683.00,2816.5H1674.67M117.00,2861.5H125.33M1683.00,2861.5H1674.67" stroke="#000" stroke-width="1" fill="none" shape-rendering="crispEdges"/>
<rect x="117.00" y="2639.00" width="1566.00" height="221.70" fill="none" stroke="#000" stroke-width="2.0" shape-rendering="crispEdges"/>
<text x="53.34" y="2883.80" font-family="Liberation Sans" font-size="17.67" textLength="126.91" lengthAdjust="spacingAndGlyphs">12/19 17:57:31</text>
<text x="366.35" y="2883.80" font-family="Liberation Sans" font-size="17.67" textLength="127.29" lengthAdjust="spacingAndGlyphs">12/19 17:57:36</text>
<text x="679.74" y="2883.80" font-family="Liberation Sans" font-size="17.67" textLength="126.91" lengthAdjust="spacingAndGlyphs">12/19 17:57:41</text>
<text x="992.75" y="2883.80" font-family="Liberation Sans" font-size="17.67" textLength="127.29" lengthAdjust="spacingAndGlyphs">12/19 17:57:46</text>
<text x="1306.14" y="2883.80" font-family="Liberation Sans" font-size="17.67" textLength="126.91" lengthAdjust="spacingAndGlyphs">12/19 17:57:51</text>
<text x="1619.15" y="2883.80" font-family="Liberation Sans" font-size="17.67" textLength="127.29" lengthAdjust="spacingAndGlyphs">12/19 17:57:56</text>
<text x="87.96" y="2643.90" font-family="Liberation Sans" font-size="17.67" textLength="19.88" lengthAdjust="spacingAndGlyphs">65</text>
<text x="87.57" y="2688.24" font-family="Liberation Sans" font-size="17.67" textLength="20.28" lengthAdjust="spacingAndGlyphs">60</text>
<text x="88.22" y="2732.58" font-family="Liberation Sans" font-size="17.67" textLength="19.61" lengthAdjust="spacingAndGlyphs">55</text>
<text x="87.84" y="2776.92" font-family="Liberation Sans" font-size="17.67" textLength="20.01" lengthAdjust="spacingAndGlyphs">50</text>
<text x="88.10" y="2821.26" font-family="Liberation Sans" font-size="17.67" textLength="19.73" lengthAdjust="spacingAndGlyphs">45</text>
<text x="87.73" y="2865.60" font-family="Liberation Sans" font-size="17.67" textLength="20.12" lengthAdjust="spacingAndGlyphs">40</text>
<text x="762.88" y="2628.90" font-family="Liberation Sans" font-size="24.73" textLength="272.10" lengthAdjust="spacingAndGlyphs">Proton Number Density</text>
<polyline points="117.00,3168.90 179.64,3156.30 242.28,3146.80 304.92,3122.30 367.56,3142.60 430.20,3142.00 492.84,3171.90 555.48,3171.90 618.12,3162.90 680.76,3172.50 743.40,3185.30 806.04,3171.90 868.68,3167.40 931.32,3171.90 993.96,3138.10 1056.60,3125.00 1119.24,3098.60 1181.88,3106.70 1244.52,3086.30 1307.16,3096.10 1369.80,3079.80 1432.44,3023.10 1495.08,3046.80 1557.72,2979.50 1620.36,3005.80 1683.00,2998.70" fill="none" stroke="#0000ff" stroke-width="2.08" stroke-linejoin="round" stroke-linecap="butt" clip-path="url(#ts5)"/>
<path d="M117.5,3194.70V3186.87M117.5,2973.00V2981.83M430.5,3194.70V3186.87M430.5,2973.00V2981.83M743.5,3194.70V3186.87M743.5,2973.00V2981.83M1056.5,3194.70V3186.87M1056.5,2973.00V2981.83M1369.5,3194.70V3186.87M1369.5,2973.00V2981.83M1683.5,3194.70V3186.87M1683.5,2973.00V2981.83M117.00,2973.5H125.33M1683.00,2973.5H1674.67M117.00,3005.5H125.33M1683.00,3005.5H1674.67M117.00,3036.5H125.33M1683.00,3036.5H1674.67M117.00,3068.5H125.33M1683.00,3068.5H1674.67M117.00,3100.5H125.33M1683.00,3100.5H1674.67M117.00,3131.5H125.33M1683.00,3131.5H1674.67M117.00,3163.5H125.33M1683.00,3163.5H1674.67M117.00,3195.5H125.33M1683.00,3195.5H1674.67" stroke="#000" stroke-width="1" fill="none" shape-rendering="crispEdges"/>
<rect x="117.00" y="2973.00" width="1566.00" height="221.70" fill="none" stroke="#000" stroke-width="2.0" shape-rendering="crispEdges"/>
<text x="53.34" y="3217.80" font-family="Liberation Sans" font-size="17.67" textLength="126.91" lengthAdjust="spacingAndGlyphs">12/19 17:57:31</text>
<text x="366.35" y="3217.80" font-family="Liberation Sans" font-size="17.67" textLength="127.29" lengthAdjust="spacingAndGlyphs">12/19 17:57:36</text>
<text x="679.74" y="3217.80" font-family="Liberation Sans" font-size="17.67" textLength="126.91" lengthAdjust="spacingAndGlyphs">12/19 17:57:41</text>
<text x="992.75" y="3217.80" font-family="Liberation Sans" font-size="17.67" textLength="127.29" lengthAdjust="spacingAndGlyphs">12/19 17:57:46</text>
<text x="1306.14" y="3217.80" font-family="Liberation Sans" font-size="17.67" textLength="126.91" lengthAdjust="spacingAndGlyphs">12/19 17:57:51</text>
<text x="1619.15" y="3217.80" font-family="Liberation Sans" font-size="17.67" textLength="127.29" lengthAdjust="spacingAndGlyphs">12/19 17:57:56</text>
<text x="72.65" y="2977.90" font-family="Liberation Sans" font-size="17.67" textLength="35.15" lengthAdjust="spacingAndGlyphs">0.45</text>
<text x="72.28" y="3009.57" font-family="Liberation Sans" font-size="17.67" textLength="35.53" lengthAdjust="spacingAndGlyphs">0.40</text>
<text x="72.65" y="3041.24" font-family="Liberation Sans" font-size="17.67" textLength="35.15" lengthAdjust="spacingAndGlyphs">0.35</text>
<text x="72.28" y="3072.91" font-family="Liberation Sans" font-size="17.67" textLength="35.53" lengthAdjust="spacingAndGlyphs">0.30</text>
<text x="72.65" y="3104.59" font-family="Liberation Sans" font-size="17.67" textLength="35.15" lengthAdjust="spacingAndGlyphs">0.25</text>
<text x="72.28" y="3136.26" font-family="Liberation Sans" font-size="17.67" textLength="35.53" lengthAdjust="spacingAndGlyphs">0.20</text>
<text x="72.65" y="3167.93" font-family="Liberation Sans" font-size="17.67" textLength="35.15" lengthAdjust="spacingAndGlyphs">0.15</text>
<text x="72.28" y="3199.60" font-family="Liberation Sans" font-size="17.67" textLength="35.53" lengthAdjust="spacingAndGlyphs">0.10</text>
<text x="1650.55" y="1330.20" font-family="Liberation Sans" font-size="17.20" textLength="15.68" lengthAdjust="spacingAndGlyphs">Br</text>
<text x="1650.56" y="1352.10" font-family="Liberation Sans" font-size="17.20" textLength="14.68" lengthAdjust="spacingAndGlyphs">Bt</text>
<text x="1650.60" y="1374.90" font-family="Liberation Sans" font-size="17.20" textLength="18.47" lengthAdjust="spacingAndGlyphs">Bn</text>
<text x="1647.16" y="1664.00" font-family="Liberation Sans" font-size="17.20" textLength="21.16" lengthAdjust="spacingAndGlyphs">Bx'</text>
<text x="1647.16" y="1686.10" font-family="Liberation Sans" font-size="17.20" textLength="21.16" lengthAdjust="spacingAndGlyphs">By'</text>
<text x="1647.17" y="1707.80" font-family="Liberation Sans" font-size="17.20" textLength="20.94" lengthAdjust="spacingAndGlyphs">Bz'</text>
<text x="1647.59" y="1729.90" font-family="Liberation Sans" font-size="17.20" textLength="19.30" lengthAdjust="spacingAndGlyphs">|B|</text>
<text x="1650.89" y="1997.00" font-family="Liberation Sans" font-size="17.20" textLength="14.92" lengthAdjust="spacingAndGlyphs">Vr</text>
<text x="1650.89" y="2019.10" font-family="Liberation Sans" font-size="17.20" textLength="14.15" lengthAdjust="spacingAndGlyphs">Vt</text>
<text x="1650.89" y="2041.50" font-family="Liberation Sans" font-size="17.20" textLength="17.84" lengthAdjust="spacingAndGlyphs">Vn</text>
<g transform="rotate(-90 59.90 1439.20)">
<text x="58.57" y="1439.20" font-family="Liberation Sans" font-size="17.70" textLength="43.00" lengthAdjust="spacingAndGlyphs">B(nT)</text>
</g>
<g transform="rotate(-90 59.90 1773.20)">
<text x="58.57" y="1773.20" font-family="Liberation Sans" font-size="17.70" textLength="43.00" lengthAdjust="spacingAndGlyphs">B(nT)</text>
</g>
<g transform="rotate(-90 47.90 2127.60)">
<text x="47.77" y="2127.60" font-family="Liberation Sans" font-size="17.70" textLength="85.74" lengthAdjust="spacingAndGlyphs">Vsw(km/s)</text>
</g>
<g transform="rotate(-90 50.00 2424.50)">
<text x="50.33" y="2424.50" font-family="Liberation Serif" font-style="italic" font-size="14.00" textLength="9.14" lengthAdjust="spacingAndGlyphs">β</text>
</g>
<g transform="rotate(-90 55.00 2416.00)">
<text x="55.70" y="2416.00" font-family="Liberation Serif" font-style="italic" font-size="10.00" textLength="5.58" lengthAdjust="spacingAndGlyphs">p</text>
</g>
<g transform="rotate(-90 73.80 2787.60)">
<text x="72.31" y="2787.60" font-family="Liberation Sans" font-size="17.70" textLength="72.54" lengthAdjust="spacingAndGlyphs">Np(#/cc)</text>
</g>
<g transform="rotate(-90 52.80 3118.70)">
<text x="52.43" y="3118.70" font-family="Liberation Sans" font-size="17.70" textLength="26.29" lengthAdjust="spacingAndGlyphs">Tp(</text>
</g>
<g transform="rotate(-90 52.80 3090.50)">
<text x="51.35" y="3090.50" font-family="Liberation Serif" font-size="17.00" textLength="16.46" lengthAdjust="spacingAndGlyphs">10</text>
</g>
<g transform="rotate(-90 46.60 3074.70)">
<text x="46.04" y="3074.70" font-family="Liberation Serif" font-size="11.50" textLength="6.44" lengthAdjust="spacingAndGlyphs">6</text>
</g>
<g transform="rotate(-90 52.80 3067.30)">
<text x="51.42" y="3067.30" font-family="Liberation Sans" font-size="17.70" textLength="17.78" lengthAdjust="spacingAndGlyphs">K)</text>
</g>
<text x="726.88" y="2960.60" font-family="Liberation Sans" font-size="24.73" textLength="282.89" lengthAdjust="spacingAndGlyphs">Proton Temperature and</text>
<text x="1014.15" y="2960.60" font-family="Liberation Serif" font-style="italic" font-size="22.00" textLength="15.54" lengthAdjust="spacingAndGlyphs">T</text>
<text x="1031.11" y="2963.60" font-family="Liberation Serif" font-style="italic" font-size="15.00" textLength="6.88" lengthAdjust="spacingAndGlyphs">e</text>
<text x="1039.00" y="2962.50" font-family="Liberation Serif" font-size="22.00" textLength="7.69" lengthAdjust="spacingAndGlyphs">/</text>
<text x="1044.82" y="2960.60" font-family="Liberation Serif" font-style="italic" font-size="22.00" textLength="16.75" lengthAdjust="spacingAndGlyphs">T</text>
<text x="1064.32" y="2963.60" font-family="Liberation Serif" font-style="italic" font-size="15.00" textLength="7.03" lengthAdjust="spacingAndGlyphs">p</text>
<rect x="123.80" y="2980.00" width="71.70" height="26.90" fill="#fff" stroke="#000" stroke-width="2.0" shape-rendering="crispEdges"/>
<line x1="133.90" y1="2992.50" x2="156.30" y2="2992.50" stroke="#0000ff" stroke-width="2.08" stroke-linecap="butt"/>
<text x="171.02" y="2998.00" font-family="Liberation Sans" font-size="17.20" textLength="15.05" lengthAdjust="spacingAndGlyphs">Tp</text>
</svg>
</body></html>
